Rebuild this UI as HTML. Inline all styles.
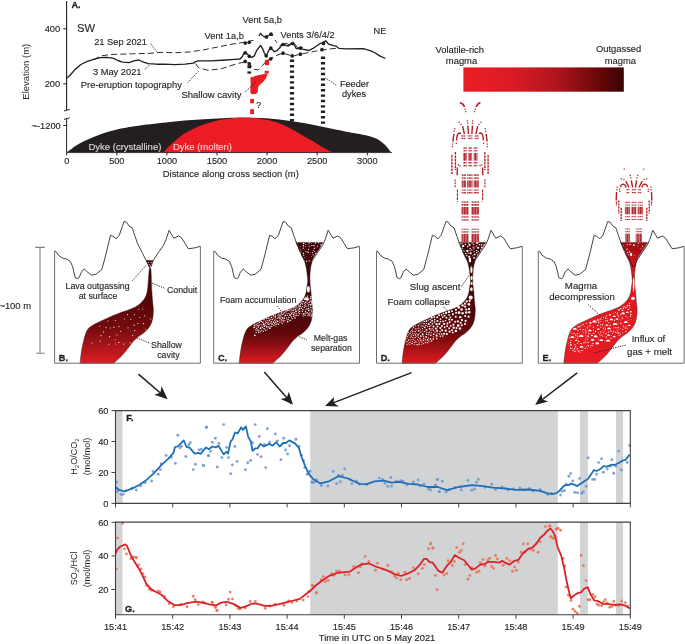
<!DOCTYPE html>
<html><head><meta charset="utf-8"><style>
html,body{margin:0;padding:0;background:#fff;overflow:hidden;}
svg{display:block;will-change:transform;}
text{font-family:"Liberation Sans", sans-serif;}
</style></head><body>
<svg width="685" height="644" viewBox="0 0 685 644">
<defs>
<linearGradient id="cbar" x1="0" y1="0" x2="1" y2="0">
<stop offset="0" stop-color="#ec1c24"/><stop offset="0.3" stop-color="#dd1b23"/><stop offset="0.6" stop-color="#aa151b"/><stop offset="0.85" stop-color="#650709"/><stop offset="1" stop-color="#3a0305"/>
</linearGradient>
<linearGradient id="gB" x1="0" y1="260" x2="0" y2="364" gradientUnits="userSpaceOnUse">
<stop offset="0" stop-color="#3a0204"/><stop offset="0.4" stop-color="#560607"/><stop offset="0.65" stop-color="#740b0f"/><stop offset="0.85" stop-color="#b0161c"/><stop offset="1" stop-color="#e41c24"/>
</linearGradient>
<linearGradient id="gC" x1="0" y1="242" x2="0" y2="364" gradientUnits="userSpaceOnUse">
<stop offset="0" stop-color="#3f0406"/><stop offset="0.6" stop-color="#4e0507"/><stop offset="0.75" stop-color="#5f0709"/><stop offset="0.88" stop-color="#a01218"/><stop offset="1" stop-color="#e31b23"/>
</linearGradient>
<linearGradient id="gD" x1="0" y1="242" x2="0" y2="364" gradientUnits="userSpaceOnUse">
<stop offset="0" stop-color="#3f0406"/><stop offset="0.6" stop-color="#520608"/><stop offset="0.75" stop-color="#6a080b"/><stop offset="0.9" stop-color="#b31419"/><stop offset="1" stop-color="#e31b23"/>
</linearGradient>
<linearGradient id="gE" x1="0" y1="242" x2="0" y2="364" gradientUnits="userSpaceOnUse">
<stop offset="0" stop-color="#960d12"/><stop offset="0.08" stop-color="#ac1016"/><stop offset="0.17" stop-color="#cc151c"/><stop offset="0.3" stop-color="#dc181f"/><stop offset="1" stop-color="#e81c24"/>
</linearGradient>
<pattern id="vs" x="0" y="0" width="1.6" height="4" patternUnits="userSpaceOnUse"><rect width="1.25" height="4" fill="#b01e26"/></pattern>
<pattern id="ds" x="0" y="0" width="1.7" height="2.6" patternUnits="userSpaceOnUse"><rect width="1.15" height="1.3" fill="#b2222a"/></pattern>
</defs>
<rect x="115.5" y="410.6" width="7" height="92.8" fill="#d1d3d4"/>
<rect x="310.2" y="410.6" width="247.6" height="92.8" fill="#d1d3d4"/>
<rect x="580" y="410.6" width="7.9" height="92.8" fill="#d1d3d4"/>
<rect x="616" y="410.6" width="7.1" height="92.8" fill="#d1d3d4"/>
<circle cx="116.6" cy="482" r="1.45" fill="#6d93d1" fill-opacity="0.85"/>
<circle cx="177.9" cy="435.3" r="1.45" fill="#6d93d1" fill-opacity="0.85"/>
<circle cx="206.4" cy="427.3" r="1.45" fill="#6d93d1" fill-opacity="0.85"/>
<circle cx="185.9" cy="456.5" r="1.45" fill="#6d93d1" fill-opacity="0.85"/>
<circle cx="175.4" cy="463.4" r="1.45" fill="#6d93d1" fill-opacity="0.85"/>
<circle cx="195.4" cy="464.2" r="1.45" fill="#6d93d1" fill-opacity="0.85"/>
<circle cx="193.2" cy="469.6" r="1.45" fill="#6d93d1" fill-opacity="0.85"/>
<circle cx="203.4" cy="465.5" r="1.45" fill="#6d93d1" fill-opacity="0.85"/>
<circle cx="208.5" cy="455.8" r="1.45" fill="#6d93d1" fill-opacity="0.85"/>
<circle cx="166.2" cy="455.5" r="1.45" fill="#6d93d1" fill-opacity="0.85"/>
<circle cx="153.1" cy="471.4" r="1.45" fill="#6d93d1" fill-opacity="0.85"/>
<circle cx="151.6" cy="481" r="1.45" fill="#6d93d1" fill-opacity="0.85"/>
<circle cx="158.2" cy="474.3" r="1.45" fill="#6d93d1" fill-opacity="0.85"/>
<circle cx="136.3" cy="490" r="1.45" fill="#6d93d1" fill-opacity="0.85"/>
<circle cx="121" cy="494.5" r="1.45" fill="#6d93d1" fill-opacity="0.85"/>
<circle cx="123.1" cy="494.2" r="1.45" fill="#6d93d1" fill-opacity="0.85"/>
<circle cx="117.3" cy="491.5" r="1.45" fill="#6d93d1" fill-opacity="0.85"/>
<circle cx="190.3" cy="442.6" r="1.45" fill="#6d93d1" fill-opacity="0.85"/>
<circle cx="188.8" cy="444.8" r="1.45" fill="#6d93d1" fill-opacity="0.85"/>
<circle cx="180" cy="447.7" r="1.45" fill="#6d93d1" fill-opacity="0.85"/>
<circle cx="181.5" cy="446.3" r="1.45" fill="#6d93d1" fill-opacity="0.85"/>
<circle cx="161.1" cy="463.8" r="1.45" fill="#6d93d1" fill-opacity="0.85"/>
<circle cx="171.3" cy="457.2" r="1.45" fill="#6d93d1" fill-opacity="0.85"/>
<circle cx="160.4" cy="469.6" r="1.45" fill="#6d93d1" fill-opacity="0.85"/>
<circle cx="145" cy="482.8" r="1.45" fill="#6d93d1" fill-opacity="0.85"/>
<circle cx="140.7" cy="485.7" r="1.45" fill="#6d93d1" fill-opacity="0.85"/>
<circle cx="131.9" cy="488.3" r="1.45" fill="#6d93d1" fill-opacity="0.85"/>
<circle cx="126" cy="490.8" r="1.45" fill="#6d93d1" fill-opacity="0.85"/>
<circle cx="199" cy="449.9" r="1.45" fill="#6d93d1" fill-opacity="0.85"/>
<circle cx="201.2" cy="449.2" r="1.45" fill="#6d93d1" fill-opacity="0.85"/>
<circle cx="206.7" cy="427.3" r="1.45" fill="#6d93d1" fill-opacity="0.85"/>
<circle cx="223.7" cy="424.6" r="1.45" fill="#6d93d1" fill-opacity="0.85"/>
<circle cx="255.2" cy="424.6" r="1.45" fill="#6d93d1" fill-opacity="0.85"/>
<circle cx="267.4" cy="428.7" r="1.45" fill="#6d93d1" fill-opacity="0.85"/>
<circle cx="275.3" cy="433.9" r="1.45" fill="#6d93d1" fill-opacity="0.85"/>
<circle cx="296" cy="439.2" r="1.45" fill="#6d93d1" fill-opacity="0.85"/>
<circle cx="259.2" cy="436.4" r="1.45" fill="#6d93d1" fill-opacity="0.85"/>
<circle cx="215.4" cy="438.3" r="1.45" fill="#6d93d1" fill-opacity="0.85"/>
<circle cx="212.3" cy="442.2" r="1.45" fill="#6d93d1" fill-opacity="0.85"/>
<circle cx="218.9" cy="443.4" r="1.45" fill="#6d93d1" fill-opacity="0.85"/>
<circle cx="283.7" cy="438.3" r="1.45" fill="#6d93d1" fill-opacity="0.85"/>
<circle cx="203.5" cy="465.5" r="1.45" fill="#6d93d1" fill-opacity="0.85"/>
<circle cx="208.4" cy="455.6" r="1.45" fill="#6d93d1" fill-opacity="0.85"/>
<circle cx="210.5" cy="451.4" r="1.45" fill="#6d93d1" fill-opacity="0.85"/>
<circle cx="217.2" cy="467" r="1.45" fill="#6d93d1" fill-opacity="0.85"/>
<circle cx="221.9" cy="457.6" r="1.45" fill="#6d93d1" fill-opacity="0.85"/>
<circle cx="226.6" cy="447.4" r="1.45" fill="#6d93d1" fill-opacity="0.85"/>
<circle cx="228.4" cy="457.6" r="1.45" fill="#6d93d1" fill-opacity="0.85"/>
<circle cx="230.7" cy="473.7" r="1.45" fill="#6d93d1" fill-opacity="0.85"/>
<circle cx="232.4" cy="464.9" r="1.45" fill="#6d93d1" fill-opacity="0.85"/>
<circle cx="235" cy="446.5" r="1.45" fill="#6d93d1" fill-opacity="0.85"/>
<circle cx="237.1" cy="461.4" r="1.45" fill="#6d93d1" fill-opacity="0.85"/>
<circle cx="245.5" cy="469.7" r="1.45" fill="#6d93d1" fill-opacity="0.85"/>
<circle cx="247.7" cy="462.8" r="1.45" fill="#6d93d1" fill-opacity="0.85"/>
<circle cx="250.5" cy="460.5" r="1.45" fill="#6d93d1" fill-opacity="0.85"/>
<circle cx="252.6" cy="442.7" r="1.45" fill="#6d93d1" fill-opacity="0.85"/>
<circle cx="257.5" cy="454.4" r="1.45" fill="#6d93d1" fill-opacity="0.85"/>
<circle cx="261" cy="456.7" r="1.45" fill="#6d93d1" fill-opacity="0.85"/>
<circle cx="265.7" cy="467.6" r="1.45" fill="#6d93d1" fill-opacity="0.85"/>
<circle cx="264.5" cy="444.4" r="1.45" fill="#6d93d1" fill-opacity="0.85"/>
<circle cx="269.7" cy="442.2" r="1.45" fill="#6d93d1" fill-opacity="0.85"/>
<circle cx="277.4" cy="441" r="1.45" fill="#6d93d1" fill-opacity="0.85"/>
<circle cx="280.9" cy="459.7" r="1.45" fill="#6d93d1" fill-opacity="0.85"/>
<circle cx="285.5" cy="450" r="1.45" fill="#6d93d1" fill-opacity="0.85"/>
<circle cx="287.6" cy="453.9" r="1.45" fill="#6d93d1" fill-opacity="0.85"/>
<circle cx="289.7" cy="445.7" r="1.45" fill="#6d93d1" fill-opacity="0.85"/>
<circle cx="299" cy="446.2" r="1.45" fill="#6d93d1" fill-opacity="0.85"/>
<circle cx="301.3" cy="455.3" r="1.45" fill="#6d93d1" fill-opacity="0.85"/>
<circle cx="303.4" cy="460.5" r="1.45" fill="#6d93d1" fill-opacity="0.85"/>
<circle cx="304.8" cy="467.6" r="1.45" fill="#6d93d1" fill-opacity="0.85"/>
<circle cx="307.2" cy="474.2" r="1.45" fill="#6d93d1" fill-opacity="0.85"/>
<circle cx="309.5" cy="471.6" r="1.45" fill="#6d93d1" fill-opacity="0.85"/>
<circle cx="312.1" cy="482.1" r="1.45" fill="#6d93d1" fill-opacity="0.85"/>
<circle cx="315.6" cy="480.3" r="1.45" fill="#6d93d1" fill-opacity="0.85"/>
<circle cx="313.9" cy="482.5" r="1.45" fill="#6d93d1" fill-opacity="0.85"/>
<circle cx="310" cy="471.3" r="1.45" fill="#6d93d1" fill-opacity="0.85"/>
<circle cx="333.2" cy="471.4" r="1.45" fill="#6d93d1" fill-opacity="0.85"/>
<circle cx="344.7" cy="469" r="1.45" fill="#6d93d1" fill-opacity="0.85"/>
<circle cx="338.5" cy="475.2" r="1.45" fill="#6d93d1" fill-opacity="0.85"/>
<circle cx="342.3" cy="475.2" r="1.45" fill="#6d93d1" fill-opacity="0.85"/>
<circle cx="336.6" cy="483.6" r="1.45" fill="#6d93d1" fill-opacity="0.85"/>
<circle cx="340.4" cy="481.7" r="1.45" fill="#6d93d1" fill-opacity="0.85"/>
<circle cx="312.3" cy="482.3" r="1.45" fill="#6d93d1" fill-opacity="0.85"/>
<circle cx="316.6" cy="480" r="1.45" fill="#6d93d1" fill-opacity="0.85"/>
<circle cx="321.4" cy="485.5" r="1.45" fill="#6d93d1" fill-opacity="0.85"/>
<circle cx="328" cy="486.1" r="1.45" fill="#6d93d1" fill-opacity="0.85"/>
<circle cx="349.9" cy="479.4" r="1.45" fill="#6d93d1" fill-opacity="0.85"/>
<circle cx="351.8" cy="483.6" r="1.45" fill="#6d93d1" fill-opacity="0.85"/>
<circle cx="356.5" cy="481.3" r="1.45" fill="#6d93d1" fill-opacity="0.85"/>
<circle cx="359.7" cy="484.2" r="1.45" fill="#6d93d1" fill-opacity="0.85"/>
<circle cx="366.6" cy="484.7" r="1.45" fill="#6d93d1" fill-opacity="0.85"/>
<circle cx="379.3" cy="478.1" r="1.45" fill="#6d93d1" fill-opacity="0.85"/>
<circle cx="382.5" cy="479.4" r="1.45" fill="#6d93d1" fill-opacity="0.85"/>
<circle cx="390.7" cy="477.5" r="1.45" fill="#6d93d1" fill-opacity="0.85"/>
<circle cx="387.8" cy="486.4" r="1.45" fill="#6d93d1" fill-opacity="0.85"/>
<circle cx="391.6" cy="486.1" r="1.45" fill="#6d93d1" fill-opacity="0.85"/>
<circle cx="385" cy="483.2" r="1.45" fill="#6d93d1" fill-opacity="0.85"/>
<circle cx="396.4" cy="481.3" r="1.45" fill="#6d93d1" fill-opacity="0.85"/>
<circle cx="400.7" cy="480.7" r="1.45" fill="#6d93d1" fill-opacity="0.85"/>
<circle cx="403" cy="481.3" r="1.45" fill="#6d93d1" fill-opacity="0.85"/>
<circle cx="406.8" cy="485.1" r="1.45" fill="#6d93d1" fill-opacity="0.85"/>
<circle cx="413.4" cy="481.9" r="1.45" fill="#6d93d1" fill-opacity="0.85"/>
<circle cx="418.2" cy="480" r="1.45" fill="#6d93d1" fill-opacity="0.85"/>
<circle cx="420.1" cy="486.1" r="1.45" fill="#6d93d1" fill-opacity="0.85"/>
<circle cx="423.9" cy="484.2" r="1.45" fill="#6d93d1" fill-opacity="0.85"/>
<circle cx="428.6" cy="488.9" r="1.45" fill="#6d93d1" fill-opacity="0.85"/>
<circle cx="430.5" cy="489.9" r="1.45" fill="#6d93d1" fill-opacity="0.85"/>
<circle cx="435.3" cy="485.1" r="1.45" fill="#6d93d1" fill-opacity="0.85"/>
<circle cx="437.5" cy="479.4" r="1.45" fill="#6d93d1" fill-opacity="0.85"/>
<circle cx="439.1" cy="491.8" r="1.45" fill="#6d93d1" fill-opacity="0.85"/>
<circle cx="437.2" cy="479.4" r="1.45" fill="#6d93d1" fill-opacity="0.85"/>
<circle cx="442.3" cy="481.3" r="1.45" fill="#6d93d1" fill-opacity="0.85"/>
<circle cx="435.7" cy="485.1" r="1.45" fill="#6d93d1" fill-opacity="0.85"/>
<circle cx="439.5" cy="491.4" r="1.45" fill="#6d93d1" fill-opacity="0.85"/>
<circle cx="446.1" cy="492.1" r="1.45" fill="#6d93d1" fill-opacity="0.85"/>
<circle cx="468" cy="480.4" r="1.45" fill="#6d93d1" fill-opacity="0.85"/>
<circle cx="478.4" cy="479.4" r="1.45" fill="#6d93d1" fill-opacity="0.85"/>
<circle cx="476.5" cy="482.3" r="1.45" fill="#6d93d1" fill-opacity="0.85"/>
<circle cx="471.8" cy="490.2" r="1.45" fill="#6d93d1" fill-opacity="0.85"/>
<circle cx="474.6" cy="488.9" r="1.45" fill="#6d93d1" fill-opacity="0.85"/>
<circle cx="461.3" cy="489.9" r="1.45" fill="#6d93d1" fill-opacity="0.85"/>
<circle cx="491.7" cy="484.2" r="1.45" fill="#6d93d1" fill-opacity="0.85"/>
<circle cx="495.5" cy="489.5" r="1.45" fill="#6d93d1" fill-opacity="0.85"/>
<circle cx="502.1" cy="487" r="1.45" fill="#6d93d1" fill-opacity="0.85"/>
<circle cx="507.8" cy="489.9" r="1.45" fill="#6d93d1" fill-opacity="0.85"/>
<circle cx="513.5" cy="488.9" r="1.45" fill="#6d93d1" fill-opacity="0.85"/>
<circle cx="523" cy="489.9" r="1.45" fill="#6d93d1" fill-opacity="0.85"/>
<circle cx="529.6" cy="488.5" r="1.45" fill="#6d93d1" fill-opacity="0.85"/>
<circle cx="540.1" cy="489.5" r="1.45" fill="#6d93d1" fill-opacity="0.85"/>
<circle cx="547.7" cy="494.6" r="1.45" fill="#6d93d1" fill-opacity="0.85"/>
<circle cx="551.5" cy="493.7" r="1.45" fill="#6d93d1" fill-opacity="0.85"/>
<circle cx="449" cy="489.9" r="1.45" fill="#6d93d1" fill-opacity="0.85"/>
<circle cx="455" cy="487.5" r="1.45" fill="#6d93d1" fill-opacity="0.85"/>
<circle cx="485" cy="487.2" r="1.45" fill="#6d93d1" fill-opacity="0.85"/>
<circle cx="533" cy="491" r="1.45" fill="#6d93d1" fill-opacity="0.85"/>
<circle cx="520" cy="488" r="1.45" fill="#6d93d1" fill-opacity="0.85"/>
<circle cx="560.5" cy="495.1" r="1.45" fill="#6d93d1" fill-opacity="0.85"/>
<circle cx="562.4" cy="491.2" r="1.45" fill="#6d93d1" fill-opacity="0.85"/>
<circle cx="564.6" cy="490.6" r="1.45" fill="#6d93d1" fill-opacity="0.85"/>
<circle cx="566.1" cy="484.3" r="1.45" fill="#6d93d1" fill-opacity="0.85"/>
<circle cx="568.9" cy="476.3" r="1.45" fill="#6d93d1" fill-opacity="0.85"/>
<circle cx="570.8" cy="473.4" r="1.45" fill="#6d93d1" fill-opacity="0.85"/>
<circle cx="572.7" cy="480.9" r="1.45" fill="#6d93d1" fill-opacity="0.85"/>
<circle cx="574.6" cy="492.4" r="1.45" fill="#6d93d1" fill-opacity="0.85"/>
<circle cx="577.5" cy="492.7" r="1.45" fill="#6d93d1" fill-opacity="0.85"/>
<circle cx="579.5" cy="478.4" r="1.45" fill="#6d93d1" fill-opacity="0.85"/>
<circle cx="581.6" cy="493.3" r="1.45" fill="#6d93d1" fill-opacity="0.85"/>
<circle cx="583.3" cy="492" r="1.45" fill="#6d93d1" fill-opacity="0.85"/>
<circle cx="586.2" cy="486.2" r="1.45" fill="#6d93d1" fill-opacity="0.85"/>
<circle cx="588.1" cy="457.9" r="1.45" fill="#6d93d1" fill-opacity="0.85"/>
<circle cx="592.8" cy="479.4" r="1.45" fill="#6d93d1" fill-opacity="0.85"/>
<circle cx="594.7" cy="479.4" r="1.45" fill="#6d93d1" fill-opacity="0.85"/>
<circle cx="596.5" cy="474.3" r="1.45" fill="#6d93d1" fill-opacity="0.85"/>
<circle cx="598.6" cy="462.6" r="1.45" fill="#6d93d1" fill-opacity="0.85"/>
<circle cx="601.5" cy="458.8" r="1.45" fill="#6d93d1" fill-opacity="0.85"/>
<circle cx="603.4" cy="472.2" r="1.45" fill="#6d93d1" fill-opacity="0.85"/>
<circle cx="607.3" cy="469.1" r="1.45" fill="#6d93d1" fill-opacity="0.85"/>
<circle cx="610.2" cy="466" r="1.45" fill="#6d93d1" fill-opacity="0.85"/>
<circle cx="611.8" cy="459.8" r="1.45" fill="#6d93d1" fill-opacity="0.85"/>
<circle cx="613.7" cy="473.2" r="1.45" fill="#6d93d1" fill-opacity="0.85"/>
<circle cx="615.8" cy="466" r="1.45" fill="#6d93d1" fill-opacity="0.85"/>
<circle cx="618.5" cy="451.1" r="1.45" fill="#6d93d1" fill-opacity="0.85"/>
<circle cx="621.3" cy="470" r="1.45" fill="#6d93d1" fill-opacity="0.85"/>
<circle cx="627.2" cy="462.5" r="1.45" fill="#6d93d1" fill-opacity="0.85"/>
<circle cx="629.7" cy="445.5" r="1.45" fill="#6d93d1" fill-opacity="0.85"/>
<polyline points="115.6,487 118.8,489.8 124.6,491.5 131.9,488.6 139.2,485 146.5,479.9 153.8,473.3 161.1,465.3 168.4,458.7 173.5,452.8 175,447 177.9,446.3 183.7,440.4 186.6,447 189.6,447.7 194.7,453.6 198.3,452.8 200.5,453.9 206.1,447.4 208.8,449.2 212.3,446.5 215.8,447.4 218.4,445.7 223.7,454.4 226.3,451.8 228,453.5 230.7,441.3 232.4,439.5 235,432.5 237.7,433.4 241.2,427.3 242.9,429.9 245.9,426.4 248.2,436.9 250.8,441.3 252.6,450.9 255.2,448.3 257.8,448.3 260.4,443.9 263.9,446.5 269.2,443.9 272.7,445.7 276.2,442.2 279.7,446.5 283.2,443 285.8,443 289.3,440.4 295.5,443.9 299,448.3 301.6,457 305.1,465.8 308.6,473.7 313,478.9 320,483.3 329,481.3 338.5,476.2 348,478.5 359.3,483.8 366.9,484.2 374.5,481.3 384,480.7 391.6,482.6 399.2,481.9 408.7,483.8 418.2,484.5 427.7,487 437.6,487 447.1,490.2 458.5,487 471.8,485.1 483.1,486.1 492.6,487.6 505.9,488.5 515.4,489.9 528.7,489.5 540.1,490.8 547.7,493.3 553.4,494 557.4,492.7 560.5,489.6 563.6,486.1 566.1,485.2 568.6,485.2 571.1,483.6 574.2,484.6 577.3,486.1 581,483.4 584.7,480.9 587.8,479 591,474.4 594,470 596.5,471 600.9,468.7 603.4,466.2 607.1,466.6 612,464.7 614.5,465 619.5,462.5 623.2,460.4 625.7,459.8 629.6,454.5" fill="none" stroke="#1d70b7" stroke-width="1.8" stroke-linejoin="round"/>
<path d="M115.5,410.6 H630.3 V503.4 H115.5 Z" fill="none" stroke="#414042" stroke-width="1.1"/>
<line x1="115.5" y1="503.4" x2="115.5" y2="507.4" stroke="#414042" stroke-width="1" />
<line x1="172.7" y1="503.4" x2="172.7" y2="507.4" stroke="#414042" stroke-width="1" />
<line x1="229.9" y1="503.4" x2="229.9" y2="507.4" stroke="#414042" stroke-width="1" />
<line x1="287.1" y1="503.4" x2="287.1" y2="507.4" stroke="#414042" stroke-width="1" />
<line x1="344.3" y1="503.4" x2="344.3" y2="507.4" stroke="#414042" stroke-width="1" />
<line x1="401.5" y1="503.4" x2="401.5" y2="507.4" stroke="#414042" stroke-width="1" />
<line x1="458.7" y1="503.4" x2="458.7" y2="507.4" stroke="#414042" stroke-width="1" />
<line x1="515.9" y1="503.4" x2="515.9" y2="507.4" stroke="#414042" stroke-width="1" />
<line x1="573.1" y1="503.4" x2="573.1" y2="507.4" stroke="#414042" stroke-width="1" />
<line x1="630.3" y1="503.4" x2="630.3" y2="507.4" stroke="#414042" stroke-width="1" />
<line x1="111.5" y1="410.6" x2="115.5" y2="410.6" stroke="#414042" stroke-width="1" />
<text x="108.5" y="413.9" font-size="9.3" text-anchor="end" font-weight="normal" fill="#231f20" stroke="#231f20" stroke-width="0.14" >60</text>
<line x1="111.5" y1="441.53" x2="115.5" y2="441.53" stroke="#414042" stroke-width="1" />
<text x="108.5" y="444.83" font-size="9.3" text-anchor="end" font-weight="normal" fill="#231f20" stroke="#231f20" stroke-width="0.14" >40</text>
<line x1="111.5" y1="472.47" x2="115.5" y2="472.47" stroke="#414042" stroke-width="1" />
<text x="108.5" y="475.77" font-size="9.3" text-anchor="end" font-weight="normal" fill="#231f20" stroke="#231f20" stroke-width="0.14" >20</text>
<line x1="111.5" y1="503.4" x2="115.5" y2="503.4" stroke="#414042" stroke-width="1" />
<text x="108.5" y="506.7" font-size="9.3" text-anchor="end" font-weight="normal" fill="#231f20" stroke="#231f20" stroke-width="0.14" >0</text>
<text x="126.3" y="420.6" font-size="9.2" text-anchor="start" font-weight="bold" fill="#231f20" stroke="#231f20" stroke-width="0.3" >F.</text>
<text transform="translate(77.4,456.6) rotate(-90)" font-size="9" text-anchor="middle" fill="#231f20">H<tspan font-size="6" dy="1.5">2</tspan><tspan dy="-1.5">O/CO</tspan><tspan font-size="6" dy="1.5">2</tspan></text>
<text transform="translate(89.6,456.6) rotate(-90)" font-size="9" text-anchor="middle" fill="#231f20">(mol/mol)</text>
<rect x="115.5" y="522.1" width="7" height="92.6" fill="#d1d3d4"/>
<rect x="310.2" y="522.1" width="247.6" height="92.6" fill="#d1d3d4"/>
<rect x="580" y="522.1" width="7.9" height="92.6" fill="#d1d3d4"/>
<rect x="616" y="522.1" width="7.1" height="92.6" fill="#d1d3d4"/>
<circle cx="122.5" cy="523.2" r="1.45" fill="#eb7458" fill-opacity="0.9"/>
<circle cx="117.7" cy="538.1" r="1.45" fill="#eb7458" fill-opacity="0.9"/>
<circle cx="116.4" cy="568.9" r="1.45" fill="#eb7458" fill-opacity="0.9"/>
<circle cx="124.5" cy="548.9" r="1.45" fill="#eb7458" fill-opacity="0.9"/>
<circle cx="126.4" cy="554" r="1.45" fill="#eb7458" fill-opacity="0.9"/>
<circle cx="130.9" cy="558.5" r="1.45" fill="#eb7458" fill-opacity="0.9"/>
<circle cx="135.7" cy="557.3" r="1.45" fill="#eb7458" fill-opacity="0.9"/>
<circle cx="136.5" cy="557.7" r="1.45" fill="#eb7458" fill-opacity="0.9"/>
<circle cx="133.3" cy="557.3" r="1.45" fill="#eb7458" fill-opacity="0.9"/>
<circle cx="138.6" cy="565" r="1.45" fill="#eb7458" fill-opacity="0.9"/>
<circle cx="141" cy="569" r="1.45" fill="#eb7458" fill-opacity="0.9"/>
<circle cx="142.9" cy="573.8" r="1.45" fill="#eb7458" fill-opacity="0.9"/>
<circle cx="145" cy="577" r="1.45" fill="#eb7458" fill-opacity="0.9"/>
<circle cx="146.6" cy="585.5" r="1.45" fill="#eb7458" fill-opacity="0.9"/>
<circle cx="149.3" cy="589.1" r="1.45" fill="#eb7458" fill-opacity="0.9"/>
<circle cx="151.4" cy="590.3" r="1.45" fill="#eb7458" fill-opacity="0.9"/>
<circle cx="158.2" cy="591.1" r="1.45" fill="#eb7458" fill-opacity="0.9"/>
<circle cx="160.1" cy="591.9" r="1.45" fill="#eb7458" fill-opacity="0.9"/>
<circle cx="164.6" cy="596.8" r="1.45" fill="#eb7458" fill-opacity="0.9"/>
<circle cx="169.4" cy="603.5" r="1.45" fill="#eb7458" fill-opacity="0.9"/>
<circle cx="173.4" cy="606.7" r="1.45" fill="#eb7458" fill-opacity="0.9"/>
<circle cx="180.7" cy="604.3" r="1.45" fill="#eb7458" fill-opacity="0.9"/>
<circle cx="187.1" cy="606.7" r="1.45" fill="#eb7458" fill-opacity="0.9"/>
<circle cx="193.2" cy="596.3" r="1.45" fill="#eb7458" fill-opacity="0.9"/>
<circle cx="195.1" cy="599.8" r="1.45" fill="#eb7458" fill-opacity="0.9"/>
<circle cx="198.3" cy="604.6" r="1.45" fill="#eb7458" fill-opacity="0.9"/>
<circle cx="203.1" cy="601.9" r="1.45" fill="#eb7458" fill-opacity="0.9"/>
<circle cx="212" cy="602.2" r="1.45" fill="#eb7458" fill-opacity="0.9"/>
<circle cx="215.2" cy="607.5" r="1.45" fill="#eb7458" fill-opacity="0.9"/>
<circle cx="216.8" cy="610.7" r="1.45" fill="#eb7458" fill-opacity="0.9"/>
<circle cx="230.1" cy="592.1" r="1.45" fill="#eb7458" fill-opacity="0.9"/>
<circle cx="232.5" cy="598.9" r="1.45" fill="#eb7458" fill-opacity="0.9"/>
<circle cx="228.5" cy="599.3" r="1.45" fill="#eb7458" fill-opacity="0.9"/>
<circle cx="212.4" cy="602.6" r="1.45" fill="#eb7458" fill-opacity="0.9"/>
<circle cx="217.2" cy="610.1" r="1.45" fill="#eb7458" fill-opacity="0.9"/>
<circle cx="215.6" cy="606.6" r="1.45" fill="#eb7458" fill-opacity="0.9"/>
<circle cx="226.1" cy="605" r="1.45" fill="#eb7458" fill-opacity="0.9"/>
<circle cx="235.7" cy="605.8" r="1.45" fill="#eb7458" fill-opacity="0.9"/>
<circle cx="238.1" cy="608.2" r="1.45" fill="#eb7458" fill-opacity="0.9"/>
<circle cx="239.7" cy="609" r="1.45" fill="#eb7458" fill-opacity="0.9"/>
<circle cx="245.3" cy="607.9" r="1.45" fill="#eb7458" fill-opacity="0.9"/>
<circle cx="250.1" cy="601.4" r="1.45" fill="#eb7458" fill-opacity="0.9"/>
<circle cx="255.3" cy="601.4" r="1.45" fill="#eb7458" fill-opacity="0.9"/>
<circle cx="265.4" cy="608.2" r="1.45" fill="#eb7458" fill-opacity="0.9"/>
<circle cx="275" cy="604.2" r="1.45" fill="#eb7458" fill-opacity="0.9"/>
<circle cx="283.9" cy="605.3" r="1.45" fill="#eb7458" fill-opacity="0.9"/>
<circle cx="288.7" cy="601" r="1.45" fill="#eb7458" fill-opacity="0.9"/>
<circle cx="296.7" cy="601" r="1.45" fill="#eb7458" fill-opacity="0.9"/>
<circle cx="303.1" cy="600.1" r="1.45" fill="#eb7458" fill-opacity="0.9"/>
<circle cx="308" cy="596.6" r="1.45" fill="#eb7458" fill-opacity="0.9"/>
<circle cx="312.5" cy="585.7" r="1.45" fill="#eb7458" fill-opacity="0.9"/>
<circle cx="316.3" cy="592.9" r="1.45" fill="#eb7458" fill-opacity="0.9"/>
<circle cx="308.8" cy="591.3" r="1.45" fill="#eb7458" fill-opacity="0.9"/>
<circle cx="270" cy="606" r="1.45" fill="#eb7458" fill-opacity="0.9"/>
<circle cx="292" cy="602.5" r="1.45" fill="#eb7458" fill-opacity="0.9"/>
<circle cx="312.3" cy="585.5" r="1.45" fill="#eb7458" fill-opacity="0.9"/>
<circle cx="316.6" cy="592.7" r="1.45" fill="#eb7458" fill-opacity="0.9"/>
<circle cx="321.4" cy="579.8" r="1.45" fill="#eb7458" fill-opacity="0.9"/>
<circle cx="323.3" cy="576.6" r="1.45" fill="#eb7458" fill-opacity="0.9"/>
<circle cx="325.2" cy="581.7" r="1.45" fill="#eb7458" fill-opacity="0.9"/>
<circle cx="328" cy="580.4" r="1.45" fill="#eb7458" fill-opacity="0.9"/>
<circle cx="331.8" cy="573.7" r="1.45" fill="#eb7458" fill-opacity="0.9"/>
<circle cx="333.7" cy="575.4" r="1.45" fill="#eb7458" fill-opacity="0.9"/>
<circle cx="336.6" cy="571.2" r="1.45" fill="#eb7458" fill-opacity="0.9"/>
<circle cx="339.4" cy="570.9" r="1.45" fill="#eb7458" fill-opacity="0.9"/>
<circle cx="345.1" cy="575" r="1.45" fill="#eb7458" fill-opacity="0.9"/>
<circle cx="348.9" cy="574.7" r="1.45" fill="#eb7458" fill-opacity="0.9"/>
<circle cx="353.7" cy="566.5" r="1.45" fill="#eb7458" fill-opacity="0.9"/>
<circle cx="358.4" cy="572.8" r="1.45" fill="#eb7458" fill-opacity="0.9"/>
<circle cx="360.3" cy="567.1" r="1.45" fill="#eb7458" fill-opacity="0.9"/>
<circle cx="365" cy="556.4" r="1.45" fill="#eb7458" fill-opacity="0.9"/>
<circle cx="362.2" cy="563.7" r="1.45" fill="#eb7458" fill-opacity="0.9"/>
<circle cx="368.8" cy="561.4" r="1.45" fill="#eb7458" fill-opacity="0.9"/>
<circle cx="375.5" cy="570.3" r="1.45" fill="#eb7458" fill-opacity="0.9"/>
<circle cx="377.4" cy="563.3" r="1.45" fill="#eb7458" fill-opacity="0.9"/>
<circle cx="383.1" cy="569.3" r="1.45" fill="#eb7458" fill-opacity="0.9"/>
<circle cx="387.8" cy="565.5" r="1.45" fill="#eb7458" fill-opacity="0.9"/>
<circle cx="391.6" cy="571.6" r="1.45" fill="#eb7458" fill-opacity="0.9"/>
<circle cx="394.5" cy="576" r="1.45" fill="#eb7458" fill-opacity="0.9"/>
<circle cx="396.4" cy="577.9" r="1.45" fill="#eb7458" fill-opacity="0.9"/>
<circle cx="398.3" cy="573.5" r="1.45" fill="#eb7458" fill-opacity="0.9"/>
<circle cx="400.7" cy="579.8" r="1.45" fill="#eb7458" fill-opacity="0.9"/>
<circle cx="404.9" cy="572.2" r="1.45" fill="#eb7458" fill-opacity="0.9"/>
<circle cx="406.8" cy="579.8" r="1.45" fill="#eb7458" fill-opacity="0.9"/>
<circle cx="409.6" cy="578.5" r="1.45" fill="#eb7458" fill-opacity="0.9"/>
<circle cx="413.4" cy="567.8" r="1.45" fill="#eb7458" fill-opacity="0.9"/>
<circle cx="418.2" cy="573.7" r="1.45" fill="#eb7458" fill-opacity="0.9"/>
<circle cx="422.4" cy="568.4" r="1.45" fill="#eb7458" fill-opacity="0.9"/>
<circle cx="424.3" cy="564.6" r="1.45" fill="#eb7458" fill-opacity="0.9"/>
<circle cx="428.6" cy="548.8" r="1.45" fill="#eb7458" fill-opacity="0.9"/>
<circle cx="430.5" cy="543.7" r="1.45" fill="#eb7458" fill-opacity="0.9"/>
<circle cx="433" cy="547.9" r="1.45" fill="#eb7458" fill-opacity="0.9"/>
<circle cx="435.3" cy="575.4" r="1.45" fill="#eb7458" fill-opacity="0.9"/>
<circle cx="437.2" cy="589.7" r="1.45" fill="#eb7458" fill-opacity="0.9"/>
<circle cx="430.9" cy="543.7" r="1.45" fill="#eb7458" fill-opacity="0.9"/>
<circle cx="432.8" cy="548.1" r="1.45" fill="#eb7458" fill-opacity="0.9"/>
<circle cx="444.2" cy="575" r="1.45" fill="#eb7458" fill-opacity="0.9"/>
<circle cx="446.7" cy="573.5" r="1.45" fill="#eb7458" fill-opacity="0.9"/>
<circle cx="448" cy="560.8" r="1.45" fill="#eb7458" fill-opacity="0.9"/>
<circle cx="452.4" cy="565.2" r="1.45" fill="#eb7458" fill-opacity="0.9"/>
<circle cx="454.3" cy="561.4" r="1.45" fill="#eb7458" fill-opacity="0.9"/>
<circle cx="456.6" cy="547.5" r="1.45" fill="#eb7458" fill-opacity="0.9"/>
<circle cx="459.4" cy="552.3" r="1.45" fill="#eb7458" fill-opacity="0.9"/>
<circle cx="461.3" cy="550.4" r="1.45" fill="#eb7458" fill-opacity="0.9"/>
<circle cx="463.2" cy="543.7" r="1.45" fill="#eb7458" fill-opacity="0.9"/>
<circle cx="465.1" cy="564.6" r="1.45" fill="#eb7458" fill-opacity="0.9"/>
<circle cx="468" cy="579.2" r="1.45" fill="#eb7458" fill-opacity="0.9"/>
<circle cx="469.9" cy="575.4" r="1.45" fill="#eb7458" fill-opacity="0.9"/>
<circle cx="471.8" cy="567.8" r="1.45" fill="#eb7458" fill-opacity="0.9"/>
<circle cx="476.5" cy="572.2" r="1.45" fill="#eb7458" fill-opacity="0.9"/>
<circle cx="479" cy="571.2" r="1.45" fill="#eb7458" fill-opacity="0.9"/>
<circle cx="480.3" cy="562.7" r="1.45" fill="#eb7458" fill-opacity="0.9"/>
<circle cx="483.1" cy="559.5" r="1.45" fill="#eb7458" fill-opacity="0.9"/>
<circle cx="485" cy="565.9" r="1.45" fill="#eb7458" fill-opacity="0.9"/>
<circle cx="487.9" cy="559.9" r="1.45" fill="#eb7458" fill-opacity="0.9"/>
<circle cx="489.8" cy="558.3" r="1.45" fill="#eb7458" fill-opacity="0.9"/>
<circle cx="491.7" cy="566.5" r="1.45" fill="#eb7458" fill-opacity="0.9"/>
<circle cx="493.6" cy="568.4" r="1.45" fill="#eb7458" fill-opacity="0.9"/>
<circle cx="495.5" cy="555.5" r="1.45" fill="#eb7458" fill-opacity="0.9"/>
<circle cx="497.4" cy="558.9" r="1.45" fill="#eb7458" fill-opacity="0.9"/>
<circle cx="503.1" cy="565.2" r="1.45" fill="#eb7458" fill-opacity="0.9"/>
<circle cx="506.9" cy="558.5" r="1.45" fill="#eb7458" fill-opacity="0.9"/>
<circle cx="509.7" cy="560.8" r="1.45" fill="#eb7458" fill-opacity="0.9"/>
<circle cx="512.6" cy="571.2" r="1.45" fill="#eb7458" fill-opacity="0.9"/>
<circle cx="514.5" cy="567.1" r="1.45" fill="#eb7458" fill-opacity="0.9"/>
<circle cx="516.4" cy="570.3" r="1.45" fill="#eb7458" fill-opacity="0.9"/>
<circle cx="518.3" cy="562.1" r="1.45" fill="#eb7458" fill-opacity="0.9"/>
<circle cx="521.1" cy="552.3" r="1.45" fill="#eb7458" fill-opacity="0.9"/>
<circle cx="523.4" cy="543.9" r="1.45" fill="#eb7458" fill-opacity="0.9"/>
<circle cx="524.9" cy="552.3" r="1.45" fill="#eb7458" fill-opacity="0.9"/>
<circle cx="527.7" cy="543.7" r="1.45" fill="#eb7458" fill-opacity="0.9"/>
<circle cx="530.6" cy="549.4" r="1.45" fill="#eb7458" fill-opacity="0.9"/>
<circle cx="533.4" cy="550.4" r="1.45" fill="#eb7458" fill-opacity="0.9"/>
<circle cx="536.3" cy="543.7" r="1.45" fill="#eb7458" fill-opacity="0.9"/>
<circle cx="538.2" cy="552.3" r="1.45" fill="#eb7458" fill-opacity="0.9"/>
<circle cx="540.1" cy="541.8" r="1.45" fill="#eb7458" fill-opacity="0.9"/>
<circle cx="545.4" cy="526.6" r="1.45" fill="#eb7458" fill-opacity="0.9"/>
<circle cx="549.2" cy="526.1" r="1.45" fill="#eb7458" fill-opacity="0.9"/>
<circle cx="551.1" cy="536.7" r="1.45" fill="#eb7458" fill-opacity="0.9"/>
<circle cx="553.4" cy="538" r="1.45" fill="#eb7458" fill-opacity="0.9"/>
<circle cx="556.2" cy="529.1" r="1.45" fill="#eb7458" fill-opacity="0.9"/>
<circle cx="558.1" cy="528.5" r="1.45" fill="#eb7458" fill-opacity="0.9"/>
<circle cx="550" cy="525.9" r="1.45" fill="#eb7458" fill-opacity="0.9"/>
<circle cx="550.7" cy="537" r="1.45" fill="#eb7458" fill-opacity="0.9"/>
<circle cx="553.2" cy="538.4" r="1.45" fill="#eb7458" fill-opacity="0.9"/>
<circle cx="556.2" cy="529.1" r="1.45" fill="#eb7458" fill-opacity="0.9"/>
<circle cx="557.7" cy="528.1" r="1.45" fill="#eb7458" fill-opacity="0.9"/>
<circle cx="560.6" cy="530.3" r="1.45" fill="#eb7458" fill-opacity="0.9"/>
<circle cx="563" cy="558.4" r="1.45" fill="#eb7458" fill-opacity="0.9"/>
<circle cx="564.8" cy="566" r="1.45" fill="#eb7458" fill-opacity="0.9"/>
<circle cx="565.9" cy="587.1" r="1.45" fill="#eb7458" fill-opacity="0.9"/>
<circle cx="568.4" cy="595.2" r="1.45" fill="#eb7458" fill-opacity="0.9"/>
<circle cx="571" cy="600.4" r="1.45" fill="#eb7458" fill-opacity="0.9"/>
<circle cx="572.9" cy="609.3" r="1.45" fill="#eb7458" fill-opacity="0.9"/>
<circle cx="575.1" cy="611.5" r="1.45" fill="#eb7458" fill-opacity="0.9"/>
<circle cx="577.3" cy="613.2" r="1.45" fill="#eb7458" fill-opacity="0.9"/>
<circle cx="579.5" cy="606.3" r="1.45" fill="#eb7458" fill-opacity="0.9"/>
<circle cx="581.3" cy="555.4" r="1.45" fill="#eb7458" fill-opacity="0.9"/>
<circle cx="583.3" cy="565.7" r="1.45" fill="#eb7458" fill-opacity="0.9"/>
<circle cx="586.1" cy="580.8" r="1.45" fill="#eb7458" fill-opacity="0.9"/>
<circle cx="588.1" cy="599.7" r="1.45" fill="#eb7458" fill-opacity="0.9"/>
<circle cx="589.8" cy="599.7" r="1.45" fill="#eb7458" fill-opacity="0.9"/>
<circle cx="592.8" cy="594.5" r="1.45" fill="#eb7458" fill-opacity="0.9"/>
<circle cx="595" cy="596.7" r="1.45" fill="#eb7458" fill-opacity="0.9"/>
<circle cx="596.9" cy="604.1" r="1.45" fill="#eb7458" fill-opacity="0.9"/>
<circle cx="598.7" cy="605.3" r="1.45" fill="#eb7458" fill-opacity="0.9"/>
<circle cx="601.6" cy="605.6" r="1.45" fill="#eb7458" fill-opacity="0.9"/>
<circle cx="603.4" cy="601.9" r="1.45" fill="#eb7458" fill-opacity="0.9"/>
<circle cx="605.3" cy="599.7" r="1.45" fill="#eb7458" fill-opacity="0.9"/>
<circle cx="607.2" cy="602.9" r="1.45" fill="#eb7458" fill-opacity="0.9"/>
<circle cx="609.8" cy="607.3" r="1.45" fill="#eb7458" fill-opacity="0.9"/>
<circle cx="612" cy="606.3" r="1.45" fill="#eb7458" fill-opacity="0.9"/>
<circle cx="613.7" cy="601.4" r="1.45" fill="#eb7458" fill-opacity="0.9"/>
<circle cx="615.7" cy="605.3" r="1.45" fill="#eb7458" fill-opacity="0.9"/>
<circle cx="618.6" cy="605.3" r="1.45" fill="#eb7458" fill-opacity="0.9"/>
<circle cx="621.6" cy="600.9" r="1.45" fill="#eb7458" fill-opacity="0.9"/>
<circle cx="625.2" cy="602.6" r="1.45" fill="#eb7458" fill-opacity="0.9"/>
<circle cx="628" cy="606.5" r="1.45" fill="#eb7458" fill-opacity="0.9"/>
<polyline points="115.6,553.7 117.2,549.7 120.4,546.5 125.3,544.4 126.9,545.7 130.1,553.7 134.1,561 138.1,567.4 142.1,574.6 146.1,583.4 151,589.1 156.6,592.3 161.4,594.7 167.8,601.1 174.2,605.1 180.7,605.1 187.1,603.2 196.7,601.6 206.4,603.5 210,604.6 216.4,605.3 221.2,602.6 226.9,601.8 234.1,604.2 240.5,607.9 245.3,606.6 251.8,603.7 256.6,603.7 264.6,605.8 271,605.8 279.1,604.2 287.1,602.1 293.5,600.5 299.9,598.9 306.4,593.7 310,591.2 315.7,585.5 323.3,579.8 329,576 336.6,573.1 344.2,572.2 349.9,571.6 355.5,567.8 361.2,564.6 368.8,563.3 375.5,566.5 383.1,569 388.8,571.2 394.5,574.1 401.1,576 408.7,573.1 414.4,570.3 420.1,564.6 423.9,558.9 426.7,558.9 429.6,562.1 432.8,562.7 438.5,570.9 442.3,572.8 447.1,565.5 450.9,561.8 454.7,555.1 459.4,558 464.2,560.2 471.8,569.7 475.5,568.4 480.3,564.6 485,564 487.9,561.8 492.6,561.8 499.3,562.7 502.1,560.8 505,562.7 509.7,564.6 514.5,560.8 518.3,559.9 523,553.2 528.7,548.5 532.5,547.5 536.3,543.7 540.1,538 543.9,534.8 547.7,530.4 550.5,528.5 553,531.8 555.2,536.2 557.4,546.6 561.1,555.4 564,567.2 566.2,579 568.4,589.3 570.7,598.2 574.3,595.2 578,593 581,592.3 583.9,589 587.6,587.1 590.6,594.5 594.3,600.4 598,601.1 602.4,603.8 609,604.1 614.9,604.8 620.8,604.4 625.2,605.6 629.7,608.5" fill="none" stroke="#dc2027" stroke-width="1.8" stroke-linejoin="round"/>
<path d="M115.5,522.1 H630.3 V614.7 H115.5 Z" fill="none" stroke="#414042" stroke-width="1.1"/>
<line x1="115.5" y1="614.7" x2="115.5" y2="618.7" stroke="#414042" stroke-width="1" />
<line x1="172.7" y1="614.7" x2="172.7" y2="618.7" stroke="#414042" stroke-width="1" />
<line x1="229.9" y1="614.7" x2="229.9" y2="618.7" stroke="#414042" stroke-width="1" />
<line x1="287.1" y1="614.7" x2="287.1" y2="618.7" stroke="#414042" stroke-width="1" />
<line x1="344.3" y1="614.7" x2="344.3" y2="618.7" stroke="#414042" stroke-width="1" />
<line x1="401.5" y1="614.7" x2="401.5" y2="618.7" stroke="#414042" stroke-width="1" />
<line x1="458.7" y1="614.7" x2="458.7" y2="618.7" stroke="#414042" stroke-width="1" />
<line x1="515.9" y1="614.7" x2="515.9" y2="618.7" stroke="#414042" stroke-width="1" />
<line x1="573.1" y1="614.7" x2="573.1" y2="618.7" stroke="#414042" stroke-width="1" />
<line x1="630.3" y1="614.7" x2="630.3" y2="618.7" stroke="#414042" stroke-width="1" />
<line x1="111.5" y1="522.3" x2="115.5" y2="522.3" stroke="#414042" stroke-width="1" />
<text x="108.5" y="525.6" font-size="9.3" text-anchor="end" font-weight="normal" fill="#231f20" stroke="#231f20" stroke-width="0.14" >60</text>
<line x1="111.5" y1="555.9" x2="115.5" y2="555.9" stroke="#414042" stroke-width="1" />
<text x="108.5" y="559.2" font-size="9.3" text-anchor="end" font-weight="normal" fill="#231f20" stroke="#231f20" stroke-width="0.14" >40</text>
<line x1="111.5" y1="589.5" x2="115.5" y2="589.5" stroke="#414042" stroke-width="1" />
<text x="108.5" y="592.8" font-size="9.3" text-anchor="end" font-weight="normal" fill="#231f20" stroke="#231f20" stroke-width="0.14" >20</text>
<text x="125" y="611.6" font-size="9.2" text-anchor="start" font-weight="bold" fill="#231f20" stroke="#231f20" stroke-width="0.3" >G.</text>
<text transform="translate(77.4,568.4) rotate(-90)" font-size="9" text-anchor="middle" fill="#231f20">SO<tspan font-size="6" dy="1.5">2</tspan><tspan dy="-1.5">/HCl</tspan></text>
<text transform="translate(89.6,568.4) rotate(-90)" font-size="9" text-anchor="middle" fill="#231f20">(mol/mol)</text>
<text x="115.5" y="630.2" font-size="9.2" text-anchor="middle" font-weight="normal" fill="#231f20" stroke="#231f20" stroke-width="0.14" >15:41</text>
<text x="172.7" y="630.2" font-size="9.2" text-anchor="middle" font-weight="normal" fill="#231f20" stroke="#231f20" stroke-width="0.14" >15:42</text>
<text x="229.9" y="630.2" font-size="9.2" text-anchor="middle" font-weight="normal" fill="#231f20" stroke="#231f20" stroke-width="0.14" >15:43</text>
<text x="287.1" y="630.2" font-size="9.2" text-anchor="middle" font-weight="normal" fill="#231f20" stroke="#231f20" stroke-width="0.14" >15:44</text>
<text x="344.3" y="630.2" font-size="9.2" text-anchor="middle" font-weight="normal" fill="#231f20" stroke="#231f20" stroke-width="0.14" >15:45</text>
<text x="401.5" y="630.2" font-size="9.2" text-anchor="middle" font-weight="normal" fill="#231f20" stroke="#231f20" stroke-width="0.14" >15:46</text>
<text x="458.7" y="630.2" font-size="9.2" text-anchor="middle" font-weight="normal" fill="#231f20" stroke="#231f20" stroke-width="0.14" >15:47</text>
<text x="515.9" y="630.2" font-size="9.2" text-anchor="middle" font-weight="normal" fill="#231f20" stroke="#231f20" stroke-width="0.14" >15:48</text>
<text x="573.1" y="630.2" font-size="9.2" text-anchor="middle" font-weight="normal" fill="#231f20" stroke="#231f20" stroke-width="0.14" >15:49</text>
<text x="630.3" y="630.2" font-size="9.2" text-anchor="middle" font-weight="normal" fill="#231f20" stroke="#231f20" stroke-width="0.14" >15:49</text>
<text x="318.8" y="641" font-size="9.35" text-anchor="start" font-weight="normal" fill="#231f20" stroke="#231f20" stroke-width="0.14" >Time in UTC on 5 May 2021</text>
<line x1="138.4" y1="374.1" x2="165.67" y2="397.54" stroke="#231f20" stroke-width="1.5" />
<path d="M167.6,399.3 L161.6,386.2 L160.36,392.7 L154.3,394.8 Z" fill="#231f20"/>
<line x1="264.3" y1="371.9" x2="291.35" y2="402.9" stroke="#231f20" stroke-width="1.5" />
<path d="M293,404.8 L288.8,391.7 L286.81,397.67 L280.7,398.9 Z" fill="#231f20"/>
<line x1="411.6" y1="372.6" x2="327.29" y2="405.14" stroke="#231f20" stroke-width="1.5" />
<path d="M325,406 L334,397 L333.59,402.77 L338.9,406.4 Z" fill="#231f20"/>
<line x1="577.2" y1="372.8" x2="537.12" y2="403.52" stroke="#231f20" stroke-width="1.5" />
<path d="M535.2,405 L541.4,393.6 L542.4,399.45 L548.2,401.6 Z" fill="#231f20"/>
<path d="M66.7,152.4 C68.92,150.87 74.45,146.2 80,143.2 C85.55,140.2 93.33,136.8 100,134.4 C106.67,132 113.33,130.3 120,128.8 C126.67,127.3 131.67,126.55 140,125.4 C148.33,124.25 160,122.87 170,121.9 C180,120.93 189.17,120.28 200,119.6 C210.83,118.92 224.53,118.05 235,117.8 C245.47,117.55 254.52,117.68 262.8,118.1 C271.08,118.52 277.4,119.38 284.7,120.3 C292,121.22 299.3,122.32 306.6,123.6 C313.9,124.88 321.2,126.53 328.5,128 C335.8,129.47 344.03,131.17 350.4,132.4 C356.77,133.63 362.42,134.38 366.7,135.4 C370.98,136.42 373.37,137.2 376.1,138.5 C378.83,139.8 381.17,141.63 383.1,143.2 C385.03,144.77 386.35,146.33 387.7,147.9 C389.05,149.47 390.62,151.82 391.2,152.6 Z" fill="#231f20"/>
<path d="M163.8,152.4 C164.63,151.42 166.83,148.47 168.8,146.5 C170.77,144.53 173.23,142.6 175.6,140.6 C177.97,138.6 180.17,136.38 183,134.5 C185.83,132.62 189.6,130.78 192.6,129.3 C195.6,127.82 198.1,126.72 201,125.6 C203.9,124.48 206.5,123.6 210,122.6 C213.5,121.6 217.9,120.38 222,119.6 C226.1,118.82 230.6,118.23 234.6,117.9 C238.6,117.57 242.1,117.48 246,117.6 C249.9,117.72 253.37,117.97 258,118.6 C262.63,119.23 269.63,120.37 273.8,121.4 C277.97,122.43 280.08,123.52 283,124.8 C285.92,126.08 288.63,127.7 291.3,129.1 C293.97,130.5 296.45,131.75 299,133.2 C301.55,134.65 304.18,136.4 306.6,137.8 C309.02,139.2 311.3,140.32 313.5,141.6 C315.7,142.88 317.72,144.27 319.8,145.5 C321.88,146.73 323.92,147.85 326,149 C328.08,150.15 331.25,151.83 332.3,152.4 Z" fill="#ec1c24"/>
<text x="88.5" y="150.1" font-size="9.5" text-anchor="start" font-weight="normal" fill="#d9d9d9" stroke="#d9d9d9" stroke-width="0.14" >Dyke (crystalline)</text>
<text x="172.9" y="150.1" font-size="9.5" text-anchor="start" font-weight="normal" fill="#f9c8c4" stroke="#f9c8c4" stroke-width="0.14" >Dyke (molten)</text>
<line x1="66.6" y1="1" x2="66.6" y2="110.3" stroke="#231f20" stroke-width="1.1" />
<line x1="64" y1="111" x2="69.6" y2="109.4" stroke="#231f20" stroke-width="1" />
<line x1="66.6" y1="118.6" x2="66.6" y2="152.6" stroke="#231f20" stroke-width="1" />
<line x1="64" y1="119.4" x2="69.6" y2="117.8" stroke="#231f20" stroke-width="1" />
<line x1="66.2" y1="152.6" x2="392" y2="152.6" stroke="#231f20" stroke-width="0.8" />
<line x1="63.2" y1="28.8" x2="66.6" y2="28.8" stroke="#231f20" stroke-width="1" />
<line x1="63.2" y1="83.8" x2="66.6" y2="83.8" stroke="#231f20" stroke-width="1" />
<line x1="63.2" y1="125.5" x2="66.6" y2="125.5" stroke="#231f20" stroke-width="1" />
<text x="60.2" y="31.8" font-size="9.3" text-anchor="end" font-weight="normal" fill="#231f20" stroke="#231f20" stroke-width="0.14" >400</text>
<text x="60.2" y="86.8" font-size="9.3" text-anchor="end" font-weight="normal" fill="#231f20" stroke="#231f20" stroke-width="0.14" >200</text>
<text x="60.8" y="128.8" font-size="9.3" text-anchor="end" font-weight="normal" fill="#231f20" stroke="#231f20" stroke-width="0.14" >~-1200</text>
<text transform="translate(29.4,71.7) rotate(-90)" font-size="9.5" text-anchor="middle" fill="#231f20">Elevation (m)</text>
<line x1="66.7" y1="152.6" x2="66.7" y2="155.4" stroke="#231f20" stroke-width="1" />
<text x="66.7" y="164.4" font-size="9.2" text-anchor="middle" font-weight="normal" fill="#231f20" stroke="#231f20" stroke-width="0.14" >0</text>
<line x1="116.8" y1="152.6" x2="116.8" y2="155.4" stroke="#231f20" stroke-width="1" />
<text x="116.8" y="164.4" font-size="9.2" text-anchor="middle" font-weight="normal" fill="#231f20" stroke="#231f20" stroke-width="0.14" >500</text>
<line x1="166.9" y1="152.6" x2="166.9" y2="155.4" stroke="#231f20" stroke-width="1" />
<text x="166.9" y="164.4" font-size="9.2" text-anchor="middle" font-weight="normal" fill="#231f20" stroke="#231f20" stroke-width="0.14" >1000</text>
<line x1="217" y1="152.6" x2="217" y2="155.4" stroke="#231f20" stroke-width="1" />
<text x="217" y="164.4" font-size="9.2" text-anchor="middle" font-weight="normal" fill="#231f20" stroke="#231f20" stroke-width="0.14" >1500</text>
<line x1="267.1" y1="152.6" x2="267.1" y2="155.4" stroke="#231f20" stroke-width="1" />
<text x="267.1" y="164.4" font-size="9.2" text-anchor="middle" font-weight="normal" fill="#231f20" stroke="#231f20" stroke-width="0.14" >2000</text>
<line x1="317.2" y1="152.6" x2="317.2" y2="155.4" stroke="#231f20" stroke-width="1" />
<text x="317.2" y="164.4" font-size="9.2" text-anchor="middle" font-weight="normal" fill="#231f20" stroke="#231f20" stroke-width="0.14" >2500</text>
<line x1="367.3" y1="152.6" x2="367.3" y2="155.4" stroke="#231f20" stroke-width="1" />
<text x="367.3" y="164.4" font-size="9.2" text-anchor="middle" font-weight="normal" fill="#231f20" stroke="#231f20" stroke-width="0.14" >3000</text>
<text x="162.8" y="176.6" font-size="9.4" text-anchor="start" font-weight="normal" fill="#231f20" stroke="#231f20" stroke-width="0.14" >Distance along cross section (m)</text>
<text x="71.4" y="7.8" font-size="9.2" text-anchor="start" font-weight="bold" fill="#231f20" stroke="#231f20" stroke-width="0.3" >A.</text>
<text x="77" y="31.9" font-size="11.2" text-anchor="start" font-weight="normal" fill="#231f20" stroke="#231f20" stroke-width="0.14" >SW</text>
<text x="373.6" y="33.8" font-size="9.2" text-anchor="start" font-weight="normal" fill="#231f20" stroke="#231f20" stroke-width="0.14" >NE</text>
<line x1="292" y1="59.6" x2="292" y2="121.5" stroke="#231f20" stroke-width="4.2" stroke-dasharray="2.4 3.0" stroke-dashoffset="0"/>
<line x1="323" y1="56.6" x2="323" y2="124" stroke="#231f20" stroke-width="4.2" stroke-dasharray="2.4 3.0" stroke-dashoffset="0"/>
<rect x="247.4" y="65.4" width="3.8" height="2.9" fill="#231f20"/><rect x="247.4" y="71.4" width="3.8" height="2.2" fill="#231f20"/>
<rect x="264.9" y="59.8" width="4.3" height="5.4" fill="#ec1c24"/>
<path d="M250.6,77.3 C250.89,77.04 253.37,76.57 254,76.4 C254.63,76.23 257.44,75.48 258.2,75.3 C258.96,75.12 262.43,74.33 263.1,74.2 C263.77,74.08 265.84,73.78 266.2,73.8 C266.56,73.82 267.34,74.22 267.4,74.4 C267.46,74.58 267.03,75.65 266.9,76 C266.77,76.35 266.06,78.17 265.8,78.6 C265.54,79.03 264.18,80.79 263.8,81.2 C263.42,81.61 261.61,83.12 261.2,83.5 C260.79,83.88 259.17,85.43 258.9,85.8 C258.62,86.17 257.98,87.49 257.9,87.9 C257.82,88.31 257.96,90.28 257.9,90.7 C257.84,91.12 257.44,92.72 257.2,93 C256.96,93.28 255.38,93.99 255,94.1 C254.62,94.21 252.97,94.38 252.6,94.3 C252.23,94.22 250.78,93.56 250.6,93.2 C250.42,92.84 250.39,90.77 250.4,90 C250.41,89.23 250.69,84.88 250.7,84 C250.71,83.12 250.51,80.06 250.5,79.5 C250.49,78.94 250.31,77.56 250.6,77.3Z" fill="#ec1c24"/>
<rect x="264.6" y="70.9" width="4.0" height="2.7" fill="#ec1c24"/>
<rect x="250.2" y="98.9" width="3.8" height="4.4" fill="#ec1c24"/>
<rect x="250.2" y="109.2" width="3.8" height="4.9" fill="#ec1c24"/>
<text x="256" y="107.6" font-size="9.3" text-anchor="start" font-weight="normal" fill="#231f20" stroke="#231f20" stroke-width="0.14" >?</text>
<polyline points="66.4,78.2 69.6,75.8 74.5,70.1 80.9,64.5 87.3,61.3 93.7,59.4 100.1,57.6 106.6,57.3 113,58.1 117.8,60.5 122.6,62.1 129.1,62.6 133.9,60.8 138.7,60 143.5,62.1 148.3,63.7 156.4,64.2 165,64.2 174.6,64.7 185,64.2 193.6,63.2 195,61.8 198,60.8 211.1,60.8 225.7,60 235,59.3 240.1,59 242.2,56.8 244.2,52.7 246.2,52.9 249.3,56.3 251.9,57.3 254.4,55.8 256.5,50.7 258.5,48.1 260.5,45.5 262.6,48.6 264.6,53.7 266.2,55.8 268.7,50.7 270.3,48.1 272.3,49.6 274.3,51.7 276.9,50.7 280,47.6 282,44.5 285.1,45 288.1,46.1 292.2,43.5 294.3,45 296.3,48.6 299.4,48.6 303.8,49.3 308.9,50.5 314,47.8 319.1,44.2 323.5,42 326,41 328.6,44.2 333.7,45.7 336.6,46.4 338.8,48.3 346.1,48.9 363.6,48.6 366.5,49.7 370.9,50.8 375.3,53 379.7,55.9 385.5,58.5" fill="none" stroke="#231f20" stroke-width="1.35" stroke-linejoin="round"/>
<polyline points="259,36 260.5,33.2 262.3,35.6 264.5,36.9 266.4,37 268.6,35.4 271,34 272.9,35.6" fill="none" stroke="#231f20" stroke-width="1.2" stroke-linejoin="round"/>
<polyline points="93.7,59.6 101.8,55.7 113,54.4 132.3,53.8 149.9,53.3 160,52.4 174.6,52.7 189.2,52 203.8,49.8 218.4,46.9 233,44 244.7,42.2 253.4,40.3" fill="none" stroke="#231f20" stroke-width="0.95" stroke-dasharray="6 3.2"/>
<line x1="274.9" y1="39.9" x2="277.2" y2="42.8" stroke="#231f20" stroke-width="0.9" />
<polyline points="279.5,45.8 282.7,44.0 286,43.2 289,44.6 292.1,42.9 295,44.2 297.5,47.6 300.2,47.6 303,47.2" fill="none" stroke="#231f20" stroke-width="0.9"/>
<polyline points="195.8,63.7 197,66 199.4,68.1 208.2,70.3 221.3,68.8 230.1,65.9 238.8,63.2 243.2,62.4 246,62 249.3,63.9 252,67 254.4,69.4 258.5,69.9 261.6,66.5 265.7,61.9 270.8,58.3 276.9,55.3 283,53.2 290.2,55.3 294.3,55.8 300.4,54.1 308.1,52.7 315.4,51.2 322,50 330,48.9 337.3,48.3" fill="none" stroke="#231f20" stroke-width="0.95" stroke-dasharray="6 3.2"/>
<circle cx="245.3" cy="43.1" r="1.85" fill="#231f20"/>
<circle cx="249.2" cy="42.3" r="1.85" fill="#231f20"/>
<circle cx="266.4" cy="36.9" r="1.85" fill="#231f20"/>
<circle cx="271" cy="34.2" r="1.85" fill="#231f20"/>
<circle cx="245.2" cy="52.9" r="1.85" fill="#231f20"/>
<circle cx="249.3" cy="56.3" r="1.85" fill="#231f20"/>
<circle cx="266.2" cy="55.8" r="1.85" fill="#231f20"/>
<circle cx="270.8" cy="48.1" r="1.85" fill="#231f20"/>
<circle cx="283" cy="44.5" r="1.85" fill="#231f20"/>
<circle cx="292.7" cy="43.5" r="1.85" fill="#231f20"/>
<circle cx="300.4" cy="48.1" r="1.85" fill="#231f20"/>
<circle cx="323.5" cy="43.5" r="1.85" fill="#231f20"/>
<circle cx="245.2" cy="61.4" r="1.85" fill="#231f20"/>
<circle cx="249.3" cy="63.9" r="1.85" fill="#231f20"/>
<circle cx="270.8" cy="58.8" r="1.85" fill="#231f20"/>
<circle cx="283" cy="53.2" r="1.85" fill="#231f20"/>
<circle cx="292.2" cy="55.8" r="1.85" fill="#231f20"/>
<circle cx="300.4" cy="54.2" r="1.85" fill="#231f20"/>
<circle cx="322" cy="49.7" r="1.85" fill="#231f20"/>
<text x="94.2" y="45.3" font-size="9.3" text-anchor="start" font-weight="normal" fill="#231f20" stroke="#231f20" stroke-width="0.14" >21 Sep 2021</text>
<text x="92.9" y="74.6" font-size="9.3" text-anchor="start" font-weight="normal" fill="#231f20" stroke="#231f20" stroke-width="0.14" >3 May 2021</text>
<text x="80.8" y="87.5" font-size="9.4" text-anchor="start" font-weight="normal" fill="#231f20" stroke="#231f20" stroke-width="0.14" >Pre-eruption topography</text>
<text x="204.6" y="38.8" font-size="9.3" text-anchor="start" font-weight="normal" fill="#231f20" stroke="#231f20" stroke-width="0.14" >Vent 1a,b</text>
<text x="242.6" y="23.4" font-size="9.3" text-anchor="start" font-weight="normal" fill="#231f20" stroke="#231f20" stroke-width="0.14" >Vent 5a,b</text>
<text x="280.6" y="38" font-size="9.25" text-anchor="start" font-weight="normal" fill="#231f20" stroke="#231f20" stroke-width="0.14" >Vents 3/6/4/2</text>
<text x="181.4" y="97.5" font-size="9.5" text-anchor="start" font-weight="normal" fill="#231f20" stroke="#231f20" stroke-width="0.14" >Shallow cavity</text>
<text x="339.9" y="86.6" font-size="9.2" text-anchor="start" font-weight="normal" fill="#231f20" stroke="#231f20" stroke-width="0.14" >Feeder</text>
<text x="342" y="97.3" font-size="9.2" text-anchor="start" font-weight="normal" fill="#231f20" stroke="#231f20" stroke-width="0.14" >dykes</text>
<line x1="150.7" y1="43.6" x2="157.2" y2="52.5" stroke="#231f20" stroke-width="1" stroke-dasharray="1.2 1.2"/>
<line x1="145.1" y1="69.3" x2="149.9" y2="64.5" stroke="#231f20" stroke-width="1" stroke-dasharray="1.2 1.2"/>
<line x1="187.7" y1="82.7" x2="198.7" y2="71" stroke="#231f20" stroke-width="1" stroke-dasharray="1.2 1.2"/>
<line x1="244.8" y1="92.4" x2="256.7" y2="81" stroke="#231f20" stroke-width="1" stroke-dasharray="1.2 1.2"/>
<line x1="325.3" y1="77.8" x2="336.2" y2="85.1" stroke="#231f20" stroke-width="1" stroke-dasharray="1.2 1.2"/>
<rect x="463.4" y="67.4" width="160.4" height="24.3" fill="url(#cbar)"/>
<text x="459.8" y="53.1" font-size="9.4" text-anchor="middle" font-weight="normal" fill="#231f20" stroke="#231f20" stroke-width="0.14" >Volatile-rich</text>
<text x="461.5" y="63.8" font-size="9.4" text-anchor="middle" font-weight="normal" fill="#231f20" stroke="#231f20" stroke-width="0.14" >magma</text>
<text x="618.6" y="52.4" font-size="9.4" text-anchor="middle" font-weight="normal" fill="#231f20" stroke="#231f20" stroke-width="0.14" >Outgassed</text>
<text x="620.3" y="63.8" font-size="9.4" text-anchor="middle" font-weight="normal" fill="#231f20" stroke="#231f20" stroke-width="0.14" >magma</text>
<path d="M80.1,363.4 C80.22,362.17 80.48,358.57 80.8,356 C81.12,353.43 81.5,350.67 82,348 C82.5,345.33 83.15,342.5 83.8,340 C84.45,337.5 85.13,334.92 85.9,333 C86.67,331.08 87.2,329.83 88.4,328.5 C89.6,327.17 90.98,326.25 93.1,325 C95.22,323.75 98.28,322.35 101.1,321 C103.92,319.65 106.83,318.27 110,316.9 C113.17,315.53 117.07,313.95 120.1,312.8 C123.13,311.65 125.67,310.97 128.2,310 C130.73,309.03 133.28,308.1 135.3,307 C137.32,305.9 138.97,304.53 140.3,303.4 C141.63,302.27 142.45,301.27 143.3,300.2 C144.15,299.13 144.78,298.32 145.4,297 C146.02,295.68 146.58,294.13 147,292.3 C147.42,290.47 147.67,288.22 147.9,286 C148.13,283.78 148.23,281.17 148.4,279 C148.57,276.83 148.73,274.8 148.9,273 C149.07,271.2 149.23,269.13 149.4,268.2 C149.57,267.27 149.82,267.53 149.9,267.4 L149.9,267.4 C150,267.53 150.32,267.77 150.5,268.2 C150.68,268.63 150.87,268.7 151,270 C151.13,271.3 151.22,273.67 151.3,276 C151.38,278.33 151.4,281.33 151.5,284 C151.6,286.67 151.73,289.33 151.9,292 C152.07,294.67 152.3,297.67 152.5,300 C152.7,302.33 152.95,304.32 153.1,306 C153.25,307.68 153.43,308.23 153.4,310.1 C153.37,311.97 153.23,315.02 152.9,317.2 C152.57,319.38 152.15,321.35 151.4,323.2 C150.65,325.05 149.75,326.62 148.4,328.3 C147.05,329.98 145.15,331.78 143.3,333.3 C141.45,334.82 138.98,336.05 137.3,337.4 C135.62,338.75 134.4,340.05 133.2,341.4 C132,342.75 131.38,343.82 130.1,345.5 C128.82,347.18 127,349.65 125.5,351.5 C124,353.35 122.73,354.95 121.1,356.6 C119.47,358.25 117.07,360.25 115.7,361.4 C114.33,362.55 113.37,363.15 112.9,363.5 Z" fill="url(#gB)" stroke="#231f20" stroke-width="0.4"/>
<path d="M145.9,260.2 L153.4,260.2 L149.8,267.6 Z" fill="#4a0709"/>
<rect x="148.1" y="262" width="0.8" height="0.8" fill="#fff"/>
<rect x="150.6" y="262" width="0.8" height="0.8" fill="#fff"/>
<rect x="148.9" y="264" width="0.8" height="0.8" fill="#fff"/>
<rect x="151.6" y="261.5" width="0.8" height="0.8" fill="#fff"/>
<rect x="150.1" y="265.5" width="0.8" height="0.8" fill="#fff"/>
<circle cx="124.36" cy="318.99" r="0.51" fill="#ffffff" fill-opacity="0.95"/>
<circle cx="142.69" cy="309.08" r="0.53" fill="#ffffff" fill-opacity="0.95"/>
<circle cx="130.13" cy="342.86" r="0.59" fill="#ffffff" fill-opacity="0.95"/>
<circle cx="115.59" cy="344.03" r="0.51" fill="#ffffff" fill-opacity="0.95"/>
<circle cx="144.68" cy="315.87" r="0.52" fill="#ffffff" fill-opacity="0.95"/>
<circle cx="130.85" cy="319.27" r="0.58" fill="#ffffff" fill-opacity="0.95"/>
<circle cx="103.58" cy="331.9" r="0.56" fill="#ffffff" fill-opacity="0.95"/>
<circle cx="110.39" cy="328.01" r="0.57" fill="#ffffff" fill-opacity="0.95"/>
<circle cx="109.49" cy="336.57" r="0.6" fill="#ffffff" fill-opacity="0.95"/>
<circle cx="105.98" cy="327.55" r="0.58" fill="#ffffff" fill-opacity="0.95"/>
<circle cx="108.74" cy="344.19" r="0.52" fill="#ffffff" fill-opacity="0.95"/>
<circle cx="116.94" cy="335.04" r="0.52" fill="#ffffff" fill-opacity="0.95"/>
<circle cx="132.7" cy="335.35" r="0.59" fill="#ffffff" fill-opacity="0.95"/>
<circle cx="128.05" cy="327.78" r="0.57" fill="#ffffff" fill-opacity="0.95"/>
<circle cx="120.47" cy="331.23" r="0.51" fill="#ffffff" fill-opacity="0.95"/>
<circle cx="134.79" cy="330.53" r="0.65" fill="#ffffff" fill-opacity="0.95"/>
<circle cx="139" cy="309.3" r="0.54" fill="#ffffff" fill-opacity="0.95"/>
<circle cx="115.23" cy="339.73" r="0.51" fill="#ffffff" fill-opacity="0.95"/>
<circle cx="118.9" cy="326.53" r="0.63" fill="#ffffff" fill-opacity="0.95"/>
<circle cx="108.14" cy="321.03" r="0.55" fill="#ffffff" fill-opacity="0.95"/>
<circle cx="113.86" cy="327.22" r="0.64" fill="#ffffff" fill-opacity="0.95"/>
<circle cx="134.1" cy="325.14" r="0.59" fill="#ffffff" fill-opacity="0.95"/>
<circle cx="115.32" cy="320.36" r="0.52" fill="#ffffff" fill-opacity="0.95"/>
<circle cx="145.68" cy="329.18" r="0.52" fill="#ffffff" fill-opacity="0.95"/>
<circle cx="92.06" cy="342.99" r="0.58" fill="#ffffff" fill-opacity="0.95"/>
<circle cx="99.84" cy="326.27" r="0.5" fill="#ffffff" fill-opacity="0.95"/>
<circle cx="123.87" cy="344.12" r="0.63" fill="#ffffff" fill-opacity="0.95"/>
<circle cx="134.46" cy="314.71" r="0.56" fill="#ffffff" fill-opacity="0.95"/>
<circle cx="101.12" cy="335.65" r="0.58" fill="#ffffff" fill-opacity="0.95"/>
<circle cx="139.68" cy="317.52" r="0.53" fill="#ffffff" fill-opacity="0.95"/>
<circle cx="118.78" cy="342.42" r="0.65" fill="#ffffff" fill-opacity="0.95"/>
<circle cx="150.77" cy="318.95" r="0.53" fill="#ffffff" fill-opacity="0.95"/>
<circle cx="143.55" cy="323.66" r="0.6" fill="#ffffff" fill-opacity="0.95"/>
<circle cx="137.86" cy="323.6" r="0.53" fill="#ffffff" fill-opacity="0.95"/>
<circle cx="100.12" cy="341.1" r="0.62" fill="#ffffff" fill-opacity="0.95"/>
<circle cx="127.55" cy="314.63" r="0.56" fill="#ffffff" fill-opacity="0.95"/>
<path d="M54.6,251.1 L56.5,252.1 L58.2,255 L62.3,258 L66.7,259.1 L70.4,261.6 L72.6,266.7 L75.2,277.7 L77.7,278.7 L79.1,277.7 L81.3,272.3 L84.2,268.9 L87.2,271.8 L91.5,275.2 L95.9,274.3 L101.8,269.6 L106.1,253.6 L110.5,235.3 L112.7,236.1 L116.1,238.8 L119.3,235.1 L124.1,221.4 L126.5,222.2 L128.9,225.9 L132.1,227.8 L135.1,236.5 L137.7,243.9 L142.6,253.5 L146,260.2 L149.5,267.4" fill="none" stroke="#231f20" stroke-width="0.85" stroke-linejoin="round"/>
<path d="M150.8,267.4 L153.3,260.2 L156.2,256 L159.1,251.5 L163.4,245.5 L166.1,239.5 L169.1,230.3 L173.9,238.3 L178.7,235.9 L181.9,238.3 L185.1,243.5 L188.3,248.7 L194.7,247.9 L200.4,246.3" fill="none" stroke="#231f20" stroke-width="0.85" stroke-linejoin="round"/>
<path d="M54.6,251.1 V363.2 H200.4 V246.3" fill="none" stroke="#6d6e71" stroke-width="1"/>
<text x="58.8" y="360.8" font-size="9.2" text-anchor="start" font-weight="bold" fill="#231f20" stroke="#231f20" stroke-width="0.3" >B.</text>
<path d="M239.2,363.4 C239.32,362.17 239.58,358.57 239.9,356 C240.22,353.43 240.6,350.67 241.1,348 C241.6,345.33 242.25,342.5 242.9,340 C243.55,337.5 244.23,334.92 245,333 C245.77,331.08 246.3,329.83 247.5,328.5 C248.7,327.17 250.08,326.25 252.2,325 C254.32,323.75 257.38,322.35 260.2,321 C263.02,319.65 265.93,318.27 269.1,316.9 C272.27,315.53 276.17,313.95 279.2,312.8 C282.23,311.65 284.77,310.97 287.3,310 C289.83,309.03 292.38,308.1 294.4,307 C296.42,305.9 298.07,304.53 299.4,303.4 C300.73,302.27 301.55,301.27 302.4,300.2 C303.25,299.13 303.88,298.32 304.5,297 C305.12,295.68 305.68,294.13 306.1,292.3 C306.52,290.47 306.73,287.88 307,286 C307.27,284.12 307.67,282.83 307.7,281 C307.73,279.17 307.43,277.1 307.2,275 C306.97,272.9 306.68,270.48 306.3,268.4 C305.92,266.32 305.43,264.13 304.9,262.5 C304.37,260.87 303.8,260.05 303.1,258.6 C302.4,257.15 301.5,255.57 300.7,253.8 C299.9,252.03 299.07,249.9 298.3,248 C297.53,246.1 296.47,243.33 296.1,242.4 L322.9,242.4 C322.27,243.48 320.33,246.97 319.1,248.9 C317.87,250.83 316.53,252.38 315.5,254 C314.47,255.62 313.57,257.1 312.9,258.6 C312.23,260.1 311.92,261.07 311.5,263 C311.08,264.93 310.67,267.87 310.4,270.2 C310.13,272.53 309.93,274.53 309.9,277 C309.87,279.47 310.02,282.5 310.2,285 C310.38,287.5 310.77,289.5 311,292 C311.23,294.5 311.4,297.67 311.6,300 C311.8,302.33 312.05,304.32 312.2,306 C312.35,307.68 312.53,308.23 312.5,310.1 C312.47,311.97 312.33,315.02 312,317.2 C311.67,319.38 311.25,321.35 310.5,323.2 C309.75,325.05 308.85,326.62 307.5,328.3 C306.15,329.98 304.25,331.78 302.4,333.3 C300.55,334.82 298.08,336.05 296.4,337.4 C294.72,338.75 293.5,340.05 292.3,341.4 C291.1,342.75 290.48,343.82 289.2,345.5 C287.92,347.18 286.1,349.65 284.6,351.5 C283.1,353.35 281.83,354.95 280.2,356.6 C278.57,358.25 276.17,360.25 274.8,361.4 C273.43,362.55 272.47,363.15 272,363.5 Z" fill="url(#gC)" stroke="#231f20" stroke-width="0.4"/>
<circle cx="305.9" cy="251.6" r="0.61" fill="#ffffff" fill-opacity="1"/>
<circle cx="310.53" cy="252.85" r="0.36" fill="#ffffff" fill-opacity="1"/>
<circle cx="308.14" cy="246.32" r="0.35" fill="#ffffff" fill-opacity="1"/>
<circle cx="317.48" cy="246.11" r="0.56" fill="#ffffff" fill-opacity="1"/>
<circle cx="315.56" cy="253.48" r="0.5" fill="#ffffff" fill-opacity="1"/>
<circle cx="303.16" cy="248.12" r="0.7" fill="#ffffff" fill-opacity="1"/>
<circle cx="312.63" cy="252.51" r="0.58" fill="#ffffff" fill-opacity="1"/>
<circle cx="314.71" cy="251.49" r="0.59" fill="#ffffff" fill-opacity="1"/>
<circle cx="309.13" cy="260.88" r="0.66" fill="#ffffff" fill-opacity="1"/>
<circle cx="303.45" cy="253.54" r="0.77" fill="#ffffff" fill-opacity="1"/>
<circle cx="308.2" cy="244.19" r="0.46" fill="#ffffff" fill-opacity="1"/>
<circle cx="313.87" cy="245.55" r="0.75" fill="#ffffff" fill-opacity="1"/>
<circle cx="300.9" cy="251.09" r="0.58" fill="#ffffff" fill-opacity="1"/>
<circle cx="305.52" cy="246.56" r="0.49" fill="#ffffff" fill-opacity="1"/>
<circle cx="315.48" cy="243.17" r="0.6" fill="#ffffff" fill-opacity="1"/>
<circle cx="303.6" cy="243.56" r="0.7" fill="#ffffff" fill-opacity="1"/>
<circle cx="303.42" cy="245.67" r="0.76" fill="#ffffff" fill-opacity="1"/>
<circle cx="311.54" cy="256.25" r="0.39" fill="#ffffff" fill-opacity="1"/>
<circle cx="308.5" cy="249.31" r="0.6" fill="#ffffff" fill-opacity="1"/>
<circle cx="298.01" cy="246.67" r="0.49" fill="#ffffff" fill-opacity="1"/>
<circle cx="304.63" cy="257.38" r="0.48" fill="#ffffff" fill-opacity="1"/>
<circle cx="309.7" cy="246.22" r="0.51" fill="#ffffff" fill-opacity="1"/>
<circle cx="321" cy="244.84" r="0.72" fill="#ffffff" fill-opacity="1"/>
<circle cx="307.94" cy="252.3" r="0.73" fill="#ffffff" fill-opacity="1"/>
<circle cx="313.24" cy="250.57" r="0.51" fill="#ffffff" fill-opacity="1"/>
<circle cx="315.96" cy="247.71" r="0.42" fill="#ffffff" fill-opacity="1"/>
<circle cx="304.75" cy="249.65" r="0.35" fill="#ffffff" fill-opacity="1"/>
<circle cx="301.93" cy="252.49" r="0.35" fill="#ffffff" fill-opacity="1"/>
<circle cx="297.78" cy="243.23" r="0.49" fill="#ffffff" fill-opacity="1"/>
<circle cx="300.32" cy="252.86" r="0.58" fill="#ffffff" fill-opacity="1"/>
<circle cx="313.02" cy="254.82" r="0.66" fill="#ffffff" fill-opacity="1"/>
<circle cx="309.42" cy="242.86" r="0.71" fill="#ffffff" fill-opacity="1"/>
<circle cx="311.46" cy="243.04" r="0.38" fill="#ffffff" fill-opacity="1"/>
<circle cx="303.69" cy="255.7" r="0.66" fill="#ffffff" fill-opacity="1"/>
<circle cx="314.27" cy="248.38" r="0.58" fill="#ffffff" fill-opacity="1"/>
<circle cx="311.82" cy="245.52" r="0.59" fill="#ffffff" fill-opacity="1"/>
<circle cx="300.36" cy="249.4" r="0.49" fill="#ffffff" fill-opacity="1"/>
<circle cx="318.55" cy="242.83" r="0.69" fill="#ffffff" fill-opacity="1"/>
<circle cx="304.13" cy="260.76" r="0.46" fill="#ffffff" fill-opacity="1"/>
<circle cx="306.41" cy="261.16" r="0.75" fill="#ffffff" fill-opacity="1"/>
<circle cx="300.33" cy="246.49" r="0.39" fill="#ffffff" fill-opacity="1"/>
<circle cx="305.59" cy="244.55" r="0.46" fill="#ffffff" fill-opacity="1"/>
<circle cx="284.63" cy="312.58" r="0.52" fill="#ffffff" fill-opacity="1"/>
<circle cx="281.62" cy="321.84" r="0.66" fill="#ffffff" fill-opacity="1"/>
<circle cx="291.78" cy="309.37" r="0.6" fill="#ffffff" fill-opacity="1"/>
<circle cx="266.89" cy="322.45" r="0.62" fill="#ffffff" fill-opacity="1"/>
<circle cx="295.27" cy="309.53" r="0.7" fill="#ffffff" fill-opacity="1"/>
<circle cx="293.49" cy="314.48" r="0.77" fill="#ffffff" fill-opacity="1"/>
<circle cx="308.28" cy="305.98" r="0.64" fill="#ffffff" fill-opacity="1"/>
<circle cx="308.66" cy="310.49" r="0.87" fill="#ffffff" fill-opacity="1"/>
<circle cx="292.9" cy="312.66" r="0.63" fill="#ffffff" fill-opacity="1"/>
<circle cx="309.98" cy="313.01" r="0.67" fill="#ffffff" fill-opacity="1"/>
<circle cx="298.12" cy="306.88" r="0.51" fill="#ffffff" fill-opacity="1"/>
<circle cx="311.98" cy="307.66" r="0.54" fill="#ffffff" fill-opacity="1"/>
<circle cx="287.82" cy="310.36" r="0.9" fill="#ffffff" fill-opacity="1"/>
<circle cx="307.65" cy="297.78" r="0.55" fill="#ffffff" fill-opacity="1"/>
<circle cx="268.74" cy="322.37" r="0.58" fill="#ffffff" fill-opacity="1"/>
<circle cx="270.41" cy="318.93" r="0.54" fill="#ffffff" fill-opacity="1"/>
<circle cx="310.75" cy="304.68" r="0.88" fill="#ffffff" fill-opacity="1"/>
<circle cx="302.62" cy="304.05" r="0.66" fill="#ffffff" fill-opacity="1"/>
<circle cx="280.06" cy="315.29" r="0.75" fill="#ffffff" fill-opacity="1"/>
<circle cx="264.13" cy="328.72" r="0.83" fill="#ffffff" fill-opacity="1"/>
<circle cx="290.05" cy="315.02" r="0.86" fill="#ffffff" fill-opacity="1"/>
<circle cx="257.14" cy="330.27" r="0.72" fill="#ffffff" fill-opacity="1"/>
<circle cx="309.21" cy="302.26" r="0.74" fill="#ffffff" fill-opacity="1"/>
<circle cx="269.39" cy="320.37" r="0.82" fill="#ffffff" fill-opacity="1"/>
<circle cx="298.38" cy="305.02" r="0.67" fill="#ffffff" fill-opacity="1"/>
<circle cx="278.06" cy="315.2" r="0.64" fill="#ffffff" fill-opacity="1"/>
<circle cx="294.97" cy="317.93" r="0.75" fill="#ffffff" fill-opacity="1"/>
<circle cx="305.92" cy="306.47" r="0.62" fill="#ffffff" fill-opacity="1"/>
<circle cx="296.96" cy="315.14" r="0.76" fill="#ffffff" fill-opacity="1"/>
<circle cx="311.78" cy="311.64" r="0.61" fill="#ffffff" fill-opacity="1"/>
<circle cx="281.99" cy="314.85" r="0.76" fill="#ffffff" fill-opacity="1"/>
<circle cx="299.5" cy="311.24" r="0.86" fill="#ffffff" fill-opacity="1"/>
<circle cx="282.69" cy="317.92" r="0.85" fill="#ffffff" fill-opacity="1"/>
<circle cx="275.3" cy="316.88" r="0.81" fill="#ffffff" fill-opacity="1"/>
<circle cx="277.52" cy="318.16" r="0.7" fill="#ffffff" fill-opacity="1"/>
<circle cx="271.35" cy="321.8" r="0.81" fill="#ffffff" fill-opacity="1"/>
<circle cx="307.9" cy="315.64" r="0.65" fill="#ffffff" fill-opacity="1"/>
<circle cx="296.14" cy="306.66" r="0.57" fill="#ffffff" fill-opacity="1"/>
<circle cx="287.62" cy="315.3" r="0.56" fill="#ffffff" fill-opacity="1"/>
<circle cx="301.34" cy="308.47" r="0.61" fill="#ffffff" fill-opacity="1"/>
<circle cx="293.68" cy="316.47" r="0.6" fill="#ffffff" fill-opacity="1"/>
<circle cx="287" cy="313.71" r="0.56" fill="#ffffff" fill-opacity="1"/>
<circle cx="262.91" cy="322.28" r="0.71" fill="#ffffff" fill-opacity="1"/>
<circle cx="310.54" cy="307.18" r="0.58" fill="#ffffff" fill-opacity="1"/>
<circle cx="275.6" cy="322.18" r="0.71" fill="#ffffff" fill-opacity="1"/>
<circle cx="280" cy="318.69" r="0.79" fill="#ffffff" fill-opacity="1"/>
<circle cx="291.03" cy="312.04" r="0.53" fill="#ffffff" fill-opacity="1"/>
<circle cx="305.89" cy="297.51" r="0.77" fill="#ffffff" fill-opacity="1"/>
<circle cx="266.77" cy="318.55" r="0.73" fill="#ffffff" fill-opacity="1"/>
<circle cx="305.11" cy="315.36" r="0.66" fill="#ffffff" fill-opacity="1"/>
<circle cx="287.65" cy="321.59" r="0.87" fill="#ffffff" fill-opacity="1"/>
<circle cx="271.8" cy="326.39" r="0.62" fill="#ffffff" fill-opacity="1"/>
<circle cx="283.07" cy="320.34" r="0.76" fill="#ffffff" fill-opacity="1"/>
<circle cx="302.42" cy="311.45" r="0.61" fill="#ffffff" fill-opacity="1"/>
<circle cx="302.97" cy="301.62" r="0.83" fill="#ffffff" fill-opacity="1"/>
<circle cx="301.19" cy="303.01" r="0.79" fill="#ffffff" fill-opacity="1"/>
<circle cx="274.47" cy="323.67" r="0.55" fill="#ffffff" fill-opacity="1"/>
<circle cx="272.04" cy="324.09" r="0.84" fill="#ffffff" fill-opacity="1"/>
<circle cx="299.51" cy="308.6" r="0.84" fill="#ffffff" fill-opacity="1"/>
<circle cx="305.9" cy="302.24" r="0.83" fill="#ffffff" fill-opacity="1"/>
<circle cx="295.1" cy="315.71" r="0.63" fill="#ffffff" fill-opacity="1"/>
<circle cx="279.85" cy="320.79" r="0.58" fill="#ffffff" fill-opacity="1"/>
<circle cx="261.77" cy="330.15" r="0.59" fill="#ffffff" fill-opacity="1"/>
<circle cx="293.29" cy="308" r="0.7" fill="#ffffff" fill-opacity="1"/>
<circle cx="274.38" cy="320.23" r="0.52" fill="#ffffff" fill-opacity="1"/>
<circle cx="306.75" cy="308.14" r="0.51" fill="#ffffff" fill-opacity="1"/>
<circle cx="311.37" cy="315.94" r="0.71" fill="#ffffff" fill-opacity="1"/>
<circle cx="267.16" cy="329.29" r="0.51" fill="#ffffff" fill-opacity="1"/>
<circle cx="264.26" cy="326.16" r="0.8" fill="#ffffff" fill-opacity="1"/>
<circle cx="296.85" cy="308.01" r="0.61" fill="#ffffff" fill-opacity="1"/>
<circle cx="283.72" cy="313.96" r="0.65" fill="#ffffff" fill-opacity="1"/>
<circle cx="296.05" cy="313.57" r="0.67" fill="#ffffff" fill-opacity="1"/>
<circle cx="284.5" cy="316.97" r="0.56" fill="#ffffff" fill-opacity="1"/>
<circle cx="265.55" cy="321.1" r="0.57" fill="#ffffff" fill-opacity="1"/>
<circle cx="304.24" cy="307.31" r="0.71" fill="#ffffff" fill-opacity="1"/>
<circle cx="272.24" cy="319.46" r="0.73" fill="#ffffff" fill-opacity="1"/>
<circle cx="304.6" cy="299.16" r="0.87" fill="#ffffff" fill-opacity="1"/>
<circle cx="276.12" cy="324.19" r="0.72" fill="#ffffff" fill-opacity="1"/>
<circle cx="273.35" cy="315.78" r="0.8" fill="#ffffff" fill-opacity="1"/>
<circle cx="296.03" cy="311.36" r="0.89" fill="#ffffff" fill-opacity="1"/>
<circle cx="283.09" cy="312" r="0.52" fill="#ffffff" fill-opacity="1"/>
<circle cx="277.52" cy="321.24" r="0.84" fill="#ffffff" fill-opacity="1"/>
<circle cx="307.14" cy="312.83" r="0.74" fill="#ffffff" fill-opacity="1"/>
<circle cx="275.31" cy="319.01" r="0.6" fill="#ffffff" fill-opacity="1"/>
<circle cx="304.72" cy="305.34" r="0.61" fill="#ffffff" fill-opacity="1"/>
<circle cx="265.81" cy="325.17" r="0.55" fill="#ffffff" fill-opacity="1"/>
<circle cx="292.23" cy="318.64" r="0.69" fill="#ffffff" fill-opacity="1"/>
<circle cx="273.95" cy="325.42" r="0.65" fill="#ffffff" fill-opacity="1"/>
<circle cx="307.67" cy="300.58" r="0.62" fill="#ffffff" fill-opacity="1"/>
<circle cx="300.06" cy="306.25" r="0.88" fill="#ffffff" fill-opacity="1"/>
<circle cx="310.55" cy="298.25" r="0.81" fill="#ffffff" fill-opacity="1"/>
<circle cx="311.03" cy="301.15" r="0.8" fill="#ffffff" fill-opacity="1"/>
<circle cx="290.17" cy="309.34" r="0.59" fill="#ffffff" fill-opacity="1"/>
<circle cx="291.41" cy="316.98" r="0.65" fill="#ffffff" fill-opacity="1"/>
<circle cx="258.85" cy="330.19" r="0.61" fill="#ffffff" fill-opacity="1"/>
<circle cx="302.31" cy="306.62" r="0.69" fill="#ffffff" fill-opacity="1"/>
<circle cx="283.82" cy="321.87" r="0.61" fill="#ffffff" fill-opacity="1"/>
<circle cx="275.47" cy="315.03" r="0.62" fill="#ffffff" fill-opacity="1"/>
<circle cx="305.48" cy="311.74" r="0.75" fill="#ffffff" fill-opacity="1"/>
<circle cx="268.96" cy="324.36" r="0.75" fill="#ffffff" fill-opacity="1"/>
<circle cx="257.96" cy="323.46" r="0.56" fill="#ffffff" fill-opacity="1"/>
<circle cx="285.43" cy="315.35" r="0.83" fill="#ffffff" fill-opacity="1"/>
<circle cx="260.52" cy="328.17" r="0.87" fill="#ffffff" fill-opacity="1"/>
<circle cx="259.36" cy="325.07" r="0.69" fill="#ffffff" fill-opacity="1"/>
<circle cx="281.41" cy="313.05" r="0.82" fill="#ffffff" fill-opacity="1"/>
<circle cx="307.28" cy="303.28" r="0.55" fill="#ffffff" fill-opacity="1"/>
<circle cx="256.17" cy="332.56" r="0.63" fill="#ffffff" fill-opacity="1"/>
<circle cx="288.6" cy="319.31" r="0.54" fill="#ffffff" fill-opacity="1"/>
<circle cx="285.94" cy="311.7" r="0.73" fill="#ffffff" fill-opacity="1"/>
<circle cx="268.8" cy="318.44" r="0.59" fill="#ffffff" fill-opacity="1"/>
<circle cx="256.37" cy="324.59" r="0.6" fill="#ffffff" fill-opacity="1"/>
<circle cx="267.4" cy="323.89" r="0.53" fill="#ffffff" fill-opacity="1"/>
<circle cx="266.62" cy="326.87" r="0.78" fill="#ffffff" fill-opacity="1"/>
<circle cx="287.03" cy="319.18" r="0.63" fill="#ffffff" fill-opacity="1"/>
<circle cx="268.27" cy="326.18" r="0.51" fill="#ffffff" fill-opacity="1"/>
<circle cx="265.48" cy="323.15" r="0.58" fill="#ffffff" fill-opacity="1"/>
<circle cx="308.67" cy="308.45" r="0.73" fill="#ffffff" fill-opacity="1"/>
<circle cx="278.51" cy="324.3" r="0.74" fill="#ffffff" fill-opacity="1"/>
<circle cx="271.48" cy="317.44" r="0.78" fill="#ffffff" fill-opacity="1"/>
<circle cx="263.99" cy="319.77" r="0.69" fill="#ffffff" fill-opacity="1"/>
<circle cx="263.64" cy="324.22" r="0.87" fill="#ffffff" fill-opacity="1"/>
<circle cx="259.36" cy="322.32" r="0.8" fill="#ffffff" fill-opacity="1"/>
<circle cx="298.02" cy="309.91" r="0.72" fill="#ffffff" fill-opacity="1"/>
<circle cx="302.88" cy="309.7" r="0.71" fill="#ffffff" fill-opacity="1"/>
<circle cx="284.54" cy="318.54" r="0.57" fill="#ffffff" fill-opacity="1"/>
<circle cx="288.93" cy="313.31" r="0.58" fill="#ffffff" fill-opacity="1"/>
<circle cx="293.38" cy="310.49" r="0.79" fill="#ffffff" fill-opacity="1"/>
<circle cx="258.29" cy="326.97" r="0.69" fill="#ffffff" fill-opacity="1"/>
<circle cx="311.05" cy="309.96" r="0.71" fill="#ffffff" fill-opacity="1"/>
<circle cx="305.53" cy="309.73" r="0.56" fill="#ffffff" fill-opacity="1"/>
<circle cx="261.01" cy="324.33" r="0.63" fill="#ffffff" fill-opacity="1"/>
<circle cx="294.56" cy="312.89" r="0.66" fill="#ffffff" fill-opacity="1"/>
<circle cx="260.39" cy="331.33" r="0.58" fill="#ffffff" fill-opacity="1"/>
<circle cx="270.1" cy="326.34" r="0.56" fill="#ffffff" fill-opacity="1"/>
<circle cx="286.4" cy="317.72" r="0.51" fill="#ffffff" fill-opacity="1"/>
<circle cx="281.44" cy="319.81" r="0.65" fill="#ffffff" fill-opacity="1"/>
<circle cx="273.66" cy="317.96" r="0.52" fill="#ffffff" fill-opacity="1"/>
<circle cx="290.07" cy="320.48" r="0.82" fill="#ffffff" fill-opacity="1"/>
<circle cx="308.7" cy="299.35" r="0.57" fill="#ffffff" fill-opacity="1"/>
<circle cx="303.84" cy="313.91" r="0.81" fill="#ffffff" fill-opacity="1"/>
<circle cx="312.09" cy="313.91" r="0.77" fill="#ffffff" fill-opacity="1"/>
<circle cx="305.78" cy="313.62" r="0.52" fill="#ffffff" fill-opacity="1"/>
<circle cx="255.55" cy="329.68" r="0.55" fill="#ffffff" fill-opacity="1"/>
<circle cx="288.81" cy="317.36" r="0.69" fill="#ffffff" fill-opacity="1"/>
<circle cx="307.59" cy="296.1" r="0.71" fill="#ffffff" fill-opacity="1"/>
<circle cx="302.03" cy="313.65" r="0.51" fill="#ffffff" fill-opacity="1"/>
<circle cx="298.67" cy="315.83" r="0.53" fill="#ffffff" fill-opacity="1"/>
<circle cx="305.72" cy="304.33" r="0.5" fill="#ffffff" fill-opacity="1"/>
<circle cx="256.07" cy="326.17" r="0.5" fill="#ffffff" fill-opacity="1"/>
<circle cx="273.59" cy="322" r="0.86" fill="#ffffff" fill-opacity="1"/>
<circle cx="304.34" cy="303.17" r="0.58" fill="#ffffff" fill-opacity="1"/>
<circle cx="263.3" cy="331.43" r="0.6" fill="#ffffff" fill-opacity="1"/>
<circle cx="299.47" cy="313.63" r="0.72" fill="#ffffff" fill-opacity="1"/>
<circle cx="261.2" cy="321.54" r="0.81" fill="#ffffff" fill-opacity="1"/>
<circle cx="267.21" cy="320.56" r="0.6" fill="#ffffff" fill-opacity="1"/>
<circle cx="278.99" cy="317.08" r="0.81" fill="#ffffff" fill-opacity="1"/>
<circle cx="279.86" cy="322.47" r="0.54" fill="#ffffff" fill-opacity="1"/>
<circle cx="307.06" cy="309.48" r="0.51" fill="#ffffff" fill-opacity="1"/>
<circle cx="262.27" cy="327.38" r="0.61" fill="#ffffff" fill-opacity="1"/>
<circle cx="300.41" cy="304.52" r="0.58" fill="#ffffff" fill-opacity="1"/>
<circle cx="282.2" cy="323.7" r="0.6" fill="#ffffff" fill-opacity="1"/>
<circle cx="261.96" cy="325.87" r="0.56" fill="#ffffff" fill-opacity="1"/>
<circle cx="256.6" cy="328.35" r="0.71" fill="#ffffff" fill-opacity="1"/>
<circle cx="306.54" cy="299.6" r="0.54" fill="#ffffff" fill-opacity="1"/>
<circle cx="291.81" cy="310.8" r="0.5" fill="#ffffff" fill-opacity="1"/>
<circle cx="308.46" cy="313.91" r="0.6" fill="#ffffff" fill-opacity="1"/>
<circle cx="303.09" cy="315.93" r="0.61" fill="#ffffff" fill-opacity="1"/>
<circle cx="284.97" cy="320.43" r="0.54" fill="#ffffff" fill-opacity="1"/>
<circle cx="269.94" cy="328.1" r="0.89" fill="#ffffff" fill-opacity="1"/>
<circle cx="310.98" cy="296.48" r="0.66" fill="#ffffff" fill-opacity="1"/>
<circle cx="279.1" cy="313.87" r="0.55" fill="#ffffff" fill-opacity="1"/>
<circle cx="257.78" cy="325.39" r="0.6" fill="#ffffff" fill-opacity="1"/>
<circle cx="270.08" cy="323.2" r="0.53" fill="#ffffff" fill-opacity="1"/>
<circle cx="268.12" cy="327.73" r="0.59" fill="#ffffff" fill-opacity="1"/>
<circle cx="258.71" cy="332.3" r="0.81" fill="#ffffff" fill-opacity="1"/>
<circle cx="298.24" cy="312.56" r="0.51" fill="#ffffff" fill-opacity="1"/>
<circle cx="280.98" cy="316.91" r="0.68" fill="#ffffff" fill-opacity="1"/>
<circle cx="265.51" cy="330.43" r="0.61" fill="#ffffff" fill-opacity="1"/>
<circle cx="291.5" cy="313.66" r="0.77" fill="#ffffff" fill-opacity="1"/>
<circle cx="254.82" cy="335.38" r="0.83" fill="#ffffff" fill-opacity="1"/>
<circle cx="311.58" cy="302.93" r="0.68" fill="#ffffff" fill-opacity="1"/>
<circle cx="254.64" cy="325.21" r="0.81" fill="#ffffff" fill-opacity="1"/>
<circle cx="289.7" cy="310.8" r="0.57" fill="#ffffff" fill-opacity="1"/>
<circle cx="308.86" cy="304.4" r="0.6" fill="#ffffff" fill-opacity="1"/>
<circle cx="309.75" cy="315.04" r="0.71" fill="#ffffff" fill-opacity="1"/>
<circle cx="276.09" cy="325.99" r="0.51" fill="#ffffff" fill-opacity="1"/>
<circle cx="277.21" cy="322.9" r="0.51" fill="#ffffff" fill-opacity="1"/>
<circle cx="254.13" cy="327.36" r="0.84" fill="#ffffff" fill-opacity="1"/>
<circle cx="276.1" cy="320.27" r="0.55" fill="#ffffff" fill-opacity="1"/>
<circle cx="294.93" cy="307.69" r="0.63" fill="#ffffff" fill-opacity="1"/>
<ellipse cx="308.4" cy="289.2" rx="1.4" ry="3.2" fill="#fff"/>
<ellipse cx="306.9" cy="298.9" rx="1.9" ry="1.5" fill="#fff"/>
<path d="M213.7,251.1 L215.6,252.1 L217.3,255 L221.4,258 L225.8,259.1 L229.5,261.6 L231.7,266.7 L234.3,277.7 L236.8,278.7 L238.2,277.7 L240.4,272.3 L243.3,268.9 L246.3,271.8 L250.6,275.2 L255,274.3 L260.9,269.6 L265.2,253.6 L269.6,235.3 L271.8,236.1 L275.2,238.8 L278.4,235.1 L283.2,221.4 L285.6,222.2 L288,225.9 L291.2,227.8 L294.2,236.5 L296.8,243.9 L301.7,253.5 L305.1,260.2 L308.6,267.4" fill="none" stroke="#231f20" stroke-width="0.85" stroke-linejoin="round"/>
<path d="M309.9,267.4 L312.4,260.2 L315.3,256 L318.2,251.5 L322.5,245.5 L325.2,239.5 L328.2,230.3 L333,238.3 L337.8,235.9 L341,238.3 L344.2,243.5 L347.4,248.7 L353.8,247.9 L359.5,246.3" fill="none" stroke="#231f20" stroke-width="0.85" stroke-linejoin="round"/>
<path d="M213.7,251.1 V363.2 H359.5 V246.3" fill="none" stroke="#6d6e71" stroke-width="1"/>
<text x="217.9" y="360.8" font-size="9.2" text-anchor="start" font-weight="bold" fill="#231f20" stroke="#231f20" stroke-width="0.3" >C.</text>
<path d="M402,363.4 C402.12,362.17 402.38,358.57 402.7,356 C403.02,353.43 403.4,350.67 403.9,348 C404.4,345.33 405.05,342.5 405.7,340 C406.35,337.5 407.03,334.92 407.8,333 C408.57,331.08 409.1,329.83 410.3,328.5 C411.5,327.17 412.88,326.25 415,325 C417.12,323.75 420.18,322.35 423,321 C425.82,319.65 428.73,318.27 431.9,316.9 C435.07,315.53 438.97,313.95 442,312.8 C445.03,311.65 447.57,310.97 450.1,310 C452.63,309.03 455.18,308.1 457.2,307 C459.22,305.9 460.87,304.53 462.2,303.4 C463.53,302.27 464.35,301.27 465.2,300.2 C466.05,299.13 466.68,298.32 467.3,297 C467.92,295.68 468.48,294.13 468.9,292.3 C469.32,290.47 469.53,287.88 469.8,286 C470.07,284.12 470.47,282.83 470.5,281 C470.53,279.17 470.23,277.1 470,275 C469.77,272.9 469.48,270.48 469.1,268.4 C468.72,266.32 468.23,264.13 467.7,262.5 C467.17,260.87 466.6,260.05 465.9,258.6 C465.2,257.15 464.3,255.57 463.5,253.8 C462.7,252.03 461.87,249.9 461.1,248 C460.33,246.1 459.27,243.33 458.9,242.4 L485.7,242.4 C485.07,243.48 483.13,246.97 481.9,248.9 C480.67,250.83 479.33,252.38 478.3,254 C477.27,255.62 476.37,257.1 475.7,258.6 C475.03,260.1 474.72,261.07 474.3,263 C473.88,264.93 473.47,267.87 473.2,270.2 C472.93,272.53 472.73,274.53 472.7,277 C472.67,279.47 472.82,282.5 473,285 C473.18,287.5 473.57,289.5 473.8,292 C474.03,294.5 474.2,297.67 474.4,300 C474.6,302.33 474.85,304.32 475,306 C475.15,307.68 475.33,308.23 475.3,310.1 C475.27,311.97 475.13,315.02 474.8,317.2 C474.47,319.38 474.05,321.35 473.3,323.2 C472.55,325.05 471.65,326.62 470.3,328.3 C468.95,329.98 467.05,331.78 465.2,333.3 C463.35,334.82 460.88,336.05 459.2,337.4 C457.52,338.75 456.3,340.05 455.1,341.4 C453.9,342.75 453.28,343.82 452,345.5 C450.72,347.18 448.9,349.65 447.4,351.5 C445.9,353.35 444.63,354.95 443,356.6 C441.37,358.25 438.97,360.25 437.6,361.4 C436.23,362.55 435.27,363.15 434.8,363.5 Z" fill="url(#gD)" stroke="#231f20" stroke-width="0.4"/>
<circle cx="476.51" cy="245.8" r="0.66" fill="#ffffff" fill-opacity="1"/>
<circle cx="470.61" cy="253.3" r="1.12" fill="#ffffff" fill-opacity="1"/>
<circle cx="480.99" cy="250.15" r="0.82" fill="#ffffff" fill-opacity="1"/>
<circle cx="469.26" cy="256.98" r="1.11" fill="#ffffff" fill-opacity="1"/>
<circle cx="474.12" cy="251.65" r="0.56" fill="#ffffff" fill-opacity="1"/>
<circle cx="472.29" cy="242.9" r="0.64" fill="#ffffff" fill-opacity="1"/>
<circle cx="463.68" cy="250.89" r="0.94" fill="#ffffff" fill-opacity="1"/>
<circle cx="463.08" cy="245.88" r="1.19" fill="#ffffff" fill-opacity="1"/>
<circle cx="469.64" cy="244.92" r="1.05" fill="#ffffff" fill-opacity="1"/>
<circle cx="467.28" cy="250.92" r="1.16" fill="#ffffff" fill-opacity="1"/>
<circle cx="473.88" cy="248.86" r="0.73" fill="#ffffff" fill-opacity="1"/>
<circle cx="476.62" cy="250.45" r="0.73" fill="#ffffff" fill-opacity="1"/>
<circle cx="472.83" cy="255.81" r="0.55" fill="#ffffff" fill-opacity="1"/>
<circle cx="462.04" cy="248.53" r="1.08" fill="#ffffff" fill-opacity="1"/>
<circle cx="478.19" cy="247.86" r="1.12" fill="#ffffff" fill-opacity="1"/>
<circle cx="466.76" cy="255.7" r="0.81" fill="#ffffff" fill-opacity="1"/>
<circle cx="473.13" cy="247.14" r="0.63" fill="#ffffff" fill-opacity="1"/>
<circle cx="479.39" cy="244.81" r="0.7" fill="#ffffff" fill-opacity="1"/>
<circle cx="459.74" cy="244.09" r="1.06" fill="#ffffff" fill-opacity="1"/>
<circle cx="467.74" cy="246.61" r="0.81" fill="#ffffff" fill-opacity="1"/>
<circle cx="471.8" cy="249.88" r="0.7" fill="#ffffff" fill-opacity="1"/>
<circle cx="477.21" cy="242.86" r="1.21" fill="#ffffff" fill-opacity="1"/>
<circle cx="483.38" cy="245.99" r="0.57" fill="#ffffff" fill-opacity="1"/>
<circle cx="481.49" cy="244.73" r="0.84" fill="#ffffff" fill-opacity="1"/>
<circle cx="474.68" cy="254.39" r="0.94" fill="#ffffff" fill-opacity="1"/>
<circle cx="470.23" cy="248.56" r="0.72" fill="#ffffff" fill-opacity="1"/>
<circle cx="473.67" cy="244.56" r="0.69" fill="#ffffff" fill-opacity="1"/>
<circle cx="465.37" cy="244.33" r="0.79" fill="#ffffff" fill-opacity="1"/>
<circle cx="462.04" cy="243.58" r="0.65" fill="#ffffff" fill-opacity="1"/>
<circle cx="477.54" cy="255" r="0.61" fill="#ffffff" fill-opacity="1"/>
<circle cx="468.54" cy="243.12" r="0.58" fill="#ffffff" fill-opacity="1"/>
<circle cx="474.94" cy="247.03" r="0.59" fill="#ffffff" fill-opacity="1"/>
<circle cx="478.3" cy="251.53" r="0.65" fill="#ffffff" fill-opacity="1"/>
<circle cx="468.09" cy="253.21" r="0.6" fill="#ffffff" fill-opacity="1"/>
<circle cx="474.1" cy="257.86" r="0.97" fill="#ffffff" fill-opacity="1"/>
<circle cx="470" cy="250.71" r="0.66" fill="#ffffff" fill-opacity="1"/>
<circle cx="476.74" cy="252.69" r="0.69" fill="#ffffff" fill-opacity="1"/>
<circle cx="465.63" cy="253.75" r="0.75" fill="#ffffff" fill-opacity="1"/>
<circle cx="481.83" cy="247.54" r="0.93" fill="#ffffff" fill-opacity="1"/>
<circle cx="484.1" cy="244.47" r="0.6" fill="#ffffff" fill-opacity="1"/>
<ellipse cx="469.9" cy="260" rx="1.3" ry="2.6" fill="#fff"/>
<ellipse cx="471.4" cy="269.5" rx="1.05" ry="3.6" fill="#fff"/>
<ellipse cx="471.6" cy="278" rx="1" ry="2" fill="#fff"/>
<ellipse cx="471.6" cy="283.6" rx="1" ry="1.5" fill="#fff"/>
<ellipse cx="471.4" cy="289.2" rx="1.2" ry="2" fill="#fff"/>
<ellipse cx="470.7" cy="297.6" rx="2" ry="2.1" fill="#fff"/>
<circle cx="424.73" cy="327.46" r="0.88" fill="#ffffff" fill-opacity="1"/>
<circle cx="465.13" cy="306.67" r="1.07" fill="#ffffff" fill-opacity="1"/>
<circle cx="409.94" cy="333.77" r="0.65" fill="#ffffff" fill-opacity="1"/>
<circle cx="458.2" cy="325.56" r="1.36" fill="#ffffff" fill-opacity="1"/>
<circle cx="414.26" cy="344.39" r="0.51" fill="#ffffff" fill-opacity="1"/>
<circle cx="415.92" cy="342.02" r="0.73" fill="#ffffff" fill-opacity="1"/>
<circle cx="428.28" cy="320.13" r="0.59" fill="#ffffff" fill-opacity="1"/>
<circle cx="424.06" cy="323.7" r="0.74" fill="#ffffff" fill-opacity="1"/>
<circle cx="426.46" cy="334.31" r="0.79" fill="#ffffff" fill-opacity="1"/>
<circle cx="465.21" cy="316.03" r="1.08" fill="#ffffff" fill-opacity="1"/>
<circle cx="418.76" cy="330.85" r="0.83" fill="#ffffff" fill-opacity="1"/>
<circle cx="450.8" cy="325.86" r="0.96" fill="#ffffff" fill-opacity="1"/>
<circle cx="452.02" cy="319.79" r="1.07" fill="#ffffff" fill-opacity="1"/>
<circle cx="440.48" cy="321.56" r="0.83" fill="#ffffff" fill-opacity="1"/>
<circle cx="417.43" cy="339.25" r="0.53" fill="#ffffff" fill-opacity="1"/>
<circle cx="449.26" cy="319.47" r="1.02" fill="#ffffff" fill-opacity="1"/>
<circle cx="437.57" cy="326.52" r="0.92" fill="#ffffff" fill-opacity="1"/>
<circle cx="442.59" cy="317.09" r="0.89" fill="#ffffff" fill-opacity="1"/>
<circle cx="430.86" cy="335.35" r="0.78" fill="#ffffff" fill-opacity="1"/>
<circle cx="420.95" cy="332.04" r="0.67" fill="#ffffff" fill-opacity="1"/>
<circle cx="421.11" cy="326.06" r="0.62" fill="#ffffff" fill-opacity="1"/>
<circle cx="437.08" cy="330.78" r="0.96" fill="#ffffff" fill-opacity="1"/>
<circle cx="428.35" cy="337.93" r="0.64" fill="#ffffff" fill-opacity="1"/>
<circle cx="450.39" cy="317.27" r="0.89" fill="#ffffff" fill-opacity="1"/>
<circle cx="413.37" cy="335.38" r="0.55" fill="#ffffff" fill-opacity="1"/>
<circle cx="412.88" cy="337.65" r="0.53" fill="#ffffff" fill-opacity="1"/>
<circle cx="437.21" cy="317.3" r="1.05" fill="#ffffff" fill-opacity="1"/>
<circle cx="440.36" cy="328.06" r="1.07" fill="#ffffff" fill-opacity="1"/>
<circle cx="419.11" cy="342.49" r="0.5" fill="#ffffff" fill-opacity="1"/>
<circle cx="426.57" cy="329.93" r="0.92" fill="#ffffff" fill-opacity="1"/>
<circle cx="437.08" cy="333.1" r="0.7" fill="#ffffff" fill-opacity="1"/>
<circle cx="428.98" cy="341.64" r="0.59" fill="#ffffff" fill-opacity="1"/>
<circle cx="415.27" cy="328.78" r="0.63" fill="#ffffff" fill-opacity="1"/>
<circle cx="462.56" cy="305.38" r="1.21" fill="#ffffff" fill-opacity="1"/>
<circle cx="418.3" cy="325.82" r="0.71" fill="#ffffff" fill-opacity="1"/>
<circle cx="414.82" cy="340.28" r="0.5" fill="#ffffff" fill-opacity="1"/>
<circle cx="458.78" cy="307.48" r="1.36" fill="#ffffff" fill-opacity="1"/>
<circle cx="422.7" cy="334.25" r="0.89" fill="#ffffff" fill-opacity="1"/>
<circle cx="406.9" cy="338.73" r="0.5" fill="#ffffff" fill-opacity="1"/>
<circle cx="417" cy="344.78" r="0.68" fill="#ffffff" fill-opacity="1"/>
<circle cx="449.13" cy="328.32" r="0.96" fill="#ffffff" fill-opacity="1"/>
<circle cx="461.86" cy="320.06" r="1.09" fill="#ffffff" fill-opacity="1"/>
<circle cx="461.81" cy="325.28" r="1.04" fill="#ffffff" fill-opacity="1"/>
<circle cx="465.59" cy="320.98" r="1.12" fill="#ffffff" fill-opacity="1"/>
<circle cx="423.72" cy="338.47" r="0.66" fill="#ffffff" fill-opacity="1"/>
<circle cx="440.3" cy="336.2" r="0.77" fill="#ffffff" fill-opacity="1"/>
<circle cx="437.41" cy="320.91" r="1" fill="#ffffff" fill-opacity="1"/>
<circle cx="417.06" cy="328.47" r="0.5" fill="#ffffff" fill-opacity="1"/>
<circle cx="409.88" cy="342.49" r="0.63" fill="#ffffff" fill-opacity="1"/>
<circle cx="444.12" cy="333.7" r="1.05" fill="#ffffff" fill-opacity="1"/>
<circle cx="440.09" cy="331.51" r="0.79" fill="#ffffff" fill-opacity="1"/>
<circle cx="421.97" cy="342.14" r="0.61" fill="#ffffff" fill-opacity="1"/>
<circle cx="453.63" cy="327.74" r="1.14" fill="#ffffff" fill-opacity="1"/>
<circle cx="432.61" cy="323.75" r="0.78" fill="#ffffff" fill-opacity="1"/>
<circle cx="446.18" cy="312.97" r="1.14" fill="#ffffff" fill-opacity="1"/>
<circle cx="424.2" cy="321.39" r="0.63" fill="#ffffff" fill-opacity="1"/>
<circle cx="423.41" cy="343.48" r="0.6" fill="#ffffff" fill-opacity="1"/>
<circle cx="430.44" cy="339.01" r="0.86" fill="#ffffff" fill-opacity="1"/>
<circle cx="431.11" cy="332.81" r="0.68" fill="#ffffff" fill-opacity="1"/>
<circle cx="460.24" cy="317.19" r="1.17" fill="#ffffff" fill-opacity="1"/>
<circle cx="425.23" cy="342.6" r="0.68" fill="#ffffff" fill-opacity="1"/>
<circle cx="432.15" cy="320.73" r="0.91" fill="#ffffff" fill-opacity="1"/>
<circle cx="457.85" cy="321.38" r="1.12" fill="#ffffff" fill-opacity="1"/>
<circle cx="428.7" cy="323.9" r="0.98" fill="#ffffff" fill-opacity="1"/>
<circle cx="466.19" cy="312.48" r="1.2" fill="#ffffff" fill-opacity="1"/>
<circle cx="461.59" cy="309.43" r="1.25" fill="#ffffff" fill-opacity="1"/>
<circle cx="466.72" cy="301.4" r="1.1" fill="#ffffff" fill-opacity="1"/>
<circle cx="433.41" cy="326.43" r="0.99" fill="#ffffff" fill-opacity="1"/>
<circle cx="412.85" cy="331.22" r="0.73" fill="#ffffff" fill-opacity="1"/>
<circle cx="412.55" cy="341.43" r="0.5" fill="#ffffff" fill-opacity="1"/>
<circle cx="444.16" cy="323.82" r="1.14" fill="#ffffff" fill-opacity="1"/>
<circle cx="420.12" cy="338.65" r="0.74" fill="#ffffff" fill-opacity="1"/>
<circle cx="453.48" cy="324.66" r="1.08" fill="#ffffff" fill-opacity="1"/>
<circle cx="455.78" cy="316.72" r="1.04" fill="#ffffff" fill-opacity="1"/>
<circle cx="444.61" cy="327.24" r="0.94" fill="#ffffff" fill-opacity="1"/>
<circle cx="451.99" cy="311.2" r="0.98" fill="#ffffff" fill-opacity="1"/>
<circle cx="449.09" cy="314.97" r="0.85" fill="#ffffff" fill-opacity="1"/>
<circle cx="455.18" cy="321.69" r="0.94" fill="#ffffff" fill-opacity="1"/>
<circle cx="410.07" cy="335.88" r="0.5" fill="#ffffff" fill-opacity="1"/>
<circle cx="430.99" cy="330.33" r="0.67" fill="#ffffff" fill-opacity="1"/>
<circle cx="419.27" cy="323.86" r="0.51" fill="#ffffff" fill-opacity="1"/>
<circle cx="410.42" cy="340.08" r="0.5" fill="#ffffff" fill-opacity="1"/>
<circle cx="433.65" cy="334.13" r="0.93" fill="#ffffff" fill-opacity="1"/>
<circle cx="446.43" cy="317.79" r="0.97" fill="#ffffff" fill-opacity="1"/>
<circle cx="436.61" cy="335.63" r="1.08" fill="#ffffff" fill-opacity="1"/>
<circle cx="433.28" cy="339.12" r="0.83" fill="#ffffff" fill-opacity="1"/>
<circle cx="449.59" cy="331.59" r="1.16" fill="#ffffff" fill-opacity="1"/>
<circle cx="455.84" cy="330.97" r="1.22" fill="#ffffff" fill-opacity="1"/>
<circle cx="456.12" cy="312.87" r="1" fill="#ffffff" fill-opacity="1"/>
<circle cx="412.07" cy="343.43" r="0.73" fill="#ffffff" fill-opacity="1"/>
<circle cx="425.24" cy="339.85" r="0.65" fill="#ffffff" fill-opacity="1"/>
<circle cx="468.59" cy="316.7" r="1.1" fill="#ffffff" fill-opacity="1"/>
<circle cx="412.67" cy="328.89" r="0.5" fill="#ffffff" fill-opacity="1"/>
<circle cx="415.24" cy="331.56" r="0.69" fill="#ffffff" fill-opacity="1"/>
<circle cx="452.94" cy="314.27" r="1.09" fill="#ffffff" fill-opacity="1"/>
<circle cx="427.61" cy="326.31" r="0.66" fill="#ffffff" fill-opacity="1"/>
<circle cx="421.8" cy="344.27" r="0.54" fill="#ffffff" fill-opacity="1"/>
<circle cx="407" cy="344.61" r="0.5" fill="#ffffff" fill-opacity="1"/>
<circle cx="436.73" cy="338.61" r="0.79" fill="#ffffff" fill-opacity="1"/>
<circle cx="430.23" cy="319.51" r="0.7" fill="#ffffff" fill-opacity="1"/>
<circle cx="466.18" cy="309.5" r="1.12" fill="#ffffff" fill-opacity="1"/>
<circle cx="449.74" cy="322.2" r="1" fill="#ffffff" fill-opacity="1"/>
<circle cx="447.42" cy="323.53" r="1.01" fill="#ffffff" fill-opacity="1"/>
<circle cx="421" cy="340.48" r="0.67" fill="#ffffff" fill-opacity="1"/>
<circle cx="462.57" cy="313.17" r="1.2" fill="#ffffff" fill-opacity="1"/>
<circle cx="442.15" cy="330.22" r="1.04" fill="#ffffff" fill-opacity="1"/>
<circle cx="468.91" cy="304.32" r="1.31" fill="#ffffff" fill-opacity="1"/>
<circle cx="407.54" cy="336.6" r="0.54" fill="#ffffff" fill-opacity="1"/>
<circle cx="434.22" cy="317.1" r="0.94" fill="#ffffff" fill-opacity="1"/>
<circle cx="415.09" cy="337.54" r="0.68" fill="#ffffff" fill-opacity="1"/>
<circle cx="443.63" cy="313.56" r="0.83" fill="#ffffff" fill-opacity="1"/>
<circle cx="418.11" cy="334.89" r="0.8" fill="#ffffff" fill-opacity="1"/>
<circle cx="408.61" cy="332.51" r="0.5" fill="#ffffff" fill-opacity="1"/>
<circle cx="419.07" cy="344.34" r="0.72" fill="#ffffff" fill-opacity="1"/>
<circle cx="415.64" cy="325.94" r="0.59" fill="#ffffff" fill-opacity="1"/>
<circle cx="406.91" cy="341.65" r="0.68" fill="#ffffff" fill-opacity="1"/>
<circle cx="459.98" cy="328.49" r="1.17" fill="#ffffff" fill-opacity="1"/>
<circle cx="441.92" cy="325.88" r="0.95" fill="#ffffff" fill-opacity="1"/>
<circle cx="455.87" cy="309.83" r="1.06" fill="#ffffff" fill-opacity="1"/>
<circle cx="439.27" cy="323.88" r="1.02" fill="#ffffff" fill-opacity="1"/>
<circle cx="408.64" cy="340.01" r="0.67" fill="#ffffff" fill-opacity="1"/>
<circle cx="426.06" cy="336.89" r="0.89" fill="#ffffff" fill-opacity="1"/>
<circle cx="429.68" cy="326.46" r="0.66" fill="#ffffff" fill-opacity="1"/>
<circle cx="429.22" cy="332.26" r="0.73" fill="#ffffff" fill-opacity="1"/>
<circle cx="411.27" cy="330.2" r="0.5" fill="#ffffff" fill-opacity="1"/>
<circle cx="445.53" cy="320.7" r="0.82" fill="#ffffff" fill-opacity="1"/>
<circle cx="468.99" cy="308.93" r="1.18" fill="#ffffff" fill-opacity="1"/>
<circle cx="420.9" cy="336.01" r="0.87" fill="#ffffff" fill-opacity="1"/>
<circle cx="445.76" cy="330.67" r="1.15" fill="#ffffff" fill-opacity="1"/>
<circle cx="410.18" cy="337.46" r="0.5" fill="#ffffff" fill-opacity="1"/>
<circle cx="429.59" cy="328.66" r="0.93" fill="#ffffff" fill-opacity="1"/>
<circle cx="416.79" cy="336.36" r="0.5" fill="#ffffff" fill-opacity="1"/>
<circle cx="423.37" cy="340.42" r="0.68" fill="#ffffff" fill-opacity="1"/>
<circle cx="433.42" cy="330.33" r="0.78" fill="#ffffff" fill-opacity="1"/>
<circle cx="459.05" cy="312.63" r="1.34" fill="#ffffff" fill-opacity="1"/>
<circle cx="416.28" cy="333.16" r="0.52" fill="#ffffff" fill-opacity="1"/>
<circle cx="418.86" cy="340.77" r="0.64" fill="#ffffff" fill-opacity="1"/>
<circle cx="422.4" cy="328.66" r="0.59" fill="#ffffff" fill-opacity="1"/>
<circle cx="439.49" cy="334.01" r="0.74" fill="#ffffff" fill-opacity="1"/>
<circle cx="434.51" cy="322.01" r="0.85" fill="#ffffff" fill-opacity="1"/>
<circle cx="443.01" cy="321.35" r="0.91" fill="#ffffff" fill-opacity="1"/>
<circle cx="409.81" cy="344.82" r="0.5" fill="#ffffff" fill-opacity="1"/>
<circle cx="452.73" cy="332.51" r="0.94" fill="#ffffff" fill-opacity="1"/>
<circle cx="424.77" cy="331.61" r="0.65" fill="#ffffff" fill-opacity="1"/>
<circle cx="412.6" cy="333.14" r="0.5" fill="#ffffff" fill-opacity="1"/>
<circle cx="426.45" cy="323.52" r="0.59" fill="#ffffff" fill-opacity="1"/>
<circle cx="439.15" cy="315.27" r="1.04" fill="#ffffff" fill-opacity="1"/>
<circle cx="440.47" cy="319.12" r="0.96" fill="#ffffff" fill-opacity="1"/>
<circle cx="415.44" cy="334.98" r="0.69" fill="#ffffff" fill-opacity="1"/>
<circle cx="428.78" cy="334.48" r="0.69" fill="#ffffff" fill-opacity="1"/>
<circle cx="408.27" cy="343.65" r="0.52" fill="#ffffff" fill-opacity="1"/>
<circle cx="413.5" cy="327.25" r="0.78" fill="#ffffff" fill-opacity="1"/>
<circle cx="419.23" cy="333.27" r="0.5" fill="#ffffff" fill-opacity="1"/>
<circle cx="436.51" cy="324.18" r="1.06" fill="#ffffff" fill-opacity="1"/>
<circle cx="446.86" cy="333.99" r="1.1" fill="#ffffff" fill-opacity="1"/>
<circle cx="433.54" cy="336.87" r="0.65" fill="#ffffff" fill-opacity="1"/>
<circle cx="420.34" cy="329.23" r="0.53" fill="#ffffff" fill-opacity="1"/>
<circle cx="427.56" cy="339.9" r="0.86" fill="#ffffff" fill-opacity="1"/>
<circle cx="469.64" cy="300.8" r="1.14" fill="#ffffff" fill-opacity="1"/>
<circle cx="422.24" cy="322.79" r="0.55" fill="#ffffff" fill-opacity="1"/>
<circle cx="408.28" cy="335.01" r="0.5" fill="#ffffff" fill-opacity="1"/>
<circle cx="426.46" cy="321.16" r="0.93" fill="#ffffff" fill-opacity="1"/>
<circle cx="449" cy="311.89" r="1.19" fill="#ffffff" fill-opacity="1"/>
<circle cx="418.49" cy="337.28" r="0.61" fill="#ffffff" fill-opacity="1"/>
<circle cx="410.64" cy="331.84" r="0.58" fill="#ffffff" fill-opacity="1"/>
<circle cx="411.63" cy="336.22" r="0.5" fill="#ffffff" fill-opacity="1"/>
<circle cx="464.93" cy="303.67" r="1.07" fill="#ffffff" fill-opacity="1"/>
<circle cx="469.2" cy="312.16" r="1.19" fill="#ffffff" fill-opacity="1"/>
<circle cx="411.9" cy="334.65" r="0.5" fill="#ffffff" fill-opacity="1"/>
<circle cx="427.33" cy="342.63" r="0.72" fill="#ffffff" fill-opacity="1"/>
<circle cx="422.82" cy="330.99" r="0.59" fill="#ffffff" fill-opacity="1"/>
<circle cx="444.63" cy="315.68" r="0.96" fill="#ffffff" fill-opacity="1"/>
<circle cx="441.65" cy="314.8" r="0.85" fill="#ffffff" fill-opacity="1"/>
<circle cx="425.86" cy="325.41" r="0.69" fill="#ffffff" fill-opacity="1"/>
<circle cx="431.63" cy="341" r="0.74" fill="#ffffff" fill-opacity="1"/>
<circle cx="431.03" cy="325.14" r="0.66" fill="#ffffff" fill-opacity="1"/>
<circle cx="423.01" cy="326.17" r="0.7" fill="#ffffff" fill-opacity="1"/>
<circle cx="465.03" cy="324" r="1.1" fill="#ffffff" fill-opacity="1"/>
<circle cx="431.83" cy="317.85" r="0.91" fill="#ffffff" fill-opacity="1"/>
<circle cx="426.83" cy="332.3" r="0.65" fill="#ffffff" fill-opacity="1"/>
<circle cx="418.85" cy="328.12" r="0.69" fill="#ffffff" fill-opacity="1"/>
<circle cx="435.88" cy="328.51" r="1.05" fill="#ffffff" fill-opacity="1"/>
<circle cx="411.83" cy="339.33" r="0.5" fill="#ffffff" fill-opacity="1"/>
<circle cx="434.7" cy="319.65" r="0.84" fill="#ffffff" fill-opacity="1"/>
<circle cx="460.68" cy="322.84" r="1.07" fill="#ffffff" fill-opacity="1"/>
<circle cx="423.3" cy="336.2" r="0.58" fill="#ffffff" fill-opacity="1"/>
<circle cx="430.56" cy="322.34" r="0.79" fill="#ffffff" fill-opacity="1"/>
<circle cx="456.5" cy="328.04" r="0.98" fill="#ffffff" fill-opacity="1"/>
<circle cx="447.14" cy="326.2" r="0.9" fill="#ffffff" fill-opacity="1"/>
<circle cx="414.23" cy="342.6" r="0.5" fill="#ffffff" fill-opacity="1"/>
<circle cx="413.49" cy="339.36" r="0.5" fill="#ffffff" fill-opacity="1"/>
<circle cx="432.12" cy="328.67" r="0.63" fill="#ffffff" fill-opacity="1"/>
<circle cx="416.79" cy="330.35" r="0.5" fill="#ffffff" fill-opacity="1"/>
<circle cx="434.86" cy="331.8" r="0.67" fill="#ffffff" fill-opacity="1"/>
<circle cx="441.63" cy="334.04" r="0.82" fill="#ffffff" fill-opacity="1"/>
<circle cx="414.34" cy="333.15" r="0.51" fill="#ffffff" fill-opacity="1"/>
<circle cx="420.94" cy="323.95" r="0.57" fill="#ffffff" fill-opacity="1"/>
<circle cx="442.68" cy="336.06" r="0.79" fill="#ffffff" fill-opacity="1"/>
<circle cx="451.91" cy="330.14" r="0.98" fill="#ffffff" fill-opacity="1"/>
<path d="M376.5,251.1 L378.4,252.1 L380.1,255 L384.2,258 L388.6,259.1 L392.3,261.6 L394.5,266.7 L397.1,277.7 L399.6,278.7 L401,277.7 L403.2,272.3 L406.1,268.9 L409.1,271.8 L413.4,275.2 L417.8,274.3 L423.7,269.6 L428,253.6 L432.4,235.3 L434.6,236.1 L438,238.8 L441.2,235.1 L446,221.4 L448.4,222.2 L450.8,225.9 L454,227.8 L457,236.5 L459.6,243.9 L464.5,253.5 L467.9,260.2 L471.4,267.4" fill="none" stroke="#231f20" stroke-width="0.85" stroke-linejoin="round"/>
<path d="M472.7,267.4 L475.2,260.2 L478.1,256 L481,251.5 L485.3,245.5 L488,239.5 L491,230.3 L495.8,238.3 L500.6,235.9 L503.8,238.3 L507,243.5 L510.2,248.7 L516.6,247.9 L522.3,246.3" fill="none" stroke="#231f20" stroke-width="0.85" stroke-linejoin="round"/>
<path d="M376.5,251.1 V363.2 H522.3 V246.3" fill="none" stroke="#6d6e71" stroke-width="1"/>
<text x="380.7" y="360.8" font-size="9.2" text-anchor="start" font-weight="bold" fill="#231f20" stroke="#231f20" stroke-width="0.3" >D.</text>
<path d="M563.8,363.4 C563.92,362.17 564.18,358.57 564.5,356 C564.82,353.43 565.2,350.67 565.7,348 C566.2,345.33 566.85,342.5 567.5,340 C568.15,337.5 568.83,334.92 569.6,333 C570.37,331.08 570.9,329.83 572.1,328.5 C573.3,327.17 574.68,326.25 576.8,325 C578.92,323.75 581.98,322.35 584.8,321 C587.62,319.65 590.53,318.27 593.7,316.9 C596.87,315.53 600.77,313.95 603.8,312.8 C606.83,311.65 609.37,310.97 611.9,310 C614.43,309.03 616.98,308.1 619,307 C621.02,305.9 622.67,304.53 624,303.4 C625.33,302.27 626.15,301.27 627,300.2 C627.85,299.13 628.48,298.32 629.1,297 C629.72,295.68 630.28,294.13 630.7,292.3 C631.12,290.47 631.33,287.88 631.6,286 C631.87,284.12 632.27,282.83 632.3,281 C632.33,279.17 632.03,277.1 631.8,275 C631.57,272.9 631.28,270.48 630.9,268.4 C630.52,266.32 630.03,264.13 629.5,262.5 C628.97,260.87 628.4,260.05 627.7,258.6 C627,257.15 626.1,255.57 625.3,253.8 C624.5,252.03 623.67,249.9 622.9,248 C622.13,246.1 621.07,243.33 620.7,242.4 L647.5,242.4 C646.87,243.48 644.93,246.97 643.7,248.9 C642.47,250.83 641.13,252.38 640.1,254 C639.07,255.62 638.17,257.1 637.5,258.6 C636.83,260.1 636.52,261.07 636.1,263 C635.68,264.93 635.27,267.87 635,270.2 C634.73,272.53 634.53,274.53 634.5,277 C634.47,279.47 634.62,282.5 634.8,285 C634.98,287.5 635.37,289.5 635.6,292 C635.83,294.5 636,297.67 636.2,300 C636.4,302.33 636.65,304.32 636.8,306 C636.95,307.68 637.13,308.23 637.1,310.1 C637.07,311.97 636.93,315.02 636.6,317.2 C636.27,319.38 635.85,321.35 635.1,323.2 C634.35,325.05 633.45,326.62 632.1,328.3 C630.75,329.98 628.85,331.78 627,333.3 C625.15,334.82 622.68,336.05 621,337.4 C619.32,338.75 618.1,340.05 616.9,341.4 C615.7,342.75 615.08,343.82 613.8,345.5 C612.52,347.18 610.7,349.65 609.2,351.5 C607.7,353.35 606.43,354.95 604.8,356.6 C603.17,358.25 600.77,360.25 599.4,361.4 C598.03,362.55 597.07,363.15 596.6,363.5 Z" fill="url(#gE)" stroke="#231f20" stroke-width="0.4"/>
<circle cx="628.13" cy="254.59" r="0.54" fill="#ffffff" fill-opacity="1"/>
<circle cx="638.49" cy="243.53" r="0.5" fill="#ffffff" fill-opacity="1"/>
<circle cx="623.02" cy="245.8" r="0.54" fill="#ffffff" fill-opacity="1"/>
<circle cx="633.89" cy="245.18" r="0.89" fill="#ffffff" fill-opacity="1"/>
<circle cx="640.16" cy="248.28" r="0.42" fill="#ffffff" fill-opacity="1"/>
<circle cx="634.18" cy="255.69" r="0.43" fill="#ffffff" fill-opacity="1"/>
<circle cx="627.35" cy="252.37" r="0.66" fill="#ffffff" fill-opacity="1"/>
<circle cx="626.92" cy="249.17" r="0.69" fill="#ffffff" fill-opacity="1"/>
<circle cx="637.83" cy="246.1" r="0.4" fill="#ffffff" fill-opacity="1"/>
<circle cx="625.99" cy="254.05" r="0.42" fill="#ffffff" fill-opacity="1"/>
<circle cx="642.68" cy="246.17" r="0.57" fill="#ffffff" fill-opacity="1"/>
<circle cx="629.56" cy="252.05" r="0.73" fill="#ffffff" fill-opacity="1"/>
<circle cx="642.6" cy="249.75" r="0.43" fill="#ffffff" fill-opacity="1"/>
<circle cx="630.01" cy="244.42" r="0.72" fill="#ffffff" fill-opacity="1"/>
<circle cx="627.19" cy="244.76" r="0.55" fill="#ffffff" fill-opacity="1"/>
<circle cx="624.83" cy="251.05" r="0.67" fill="#ffffff" fill-opacity="1"/>
<ellipse cx="633.6" cy="285" rx="0.75" ry="7" fill="#fff"/>
<ellipse cx="632.9" cy="298.3" rx="1.9" ry="1.6" fill="#fff"/>
<ellipse cx="631.1" cy="254.5" rx="1.1" ry="1.8" fill="#fff"/>
<path d="M577.1,331.08 a0.9,0.9 0 0 1 1.8,0 Z" fill="#ffffff"/>
<path d="M616.61,330.6 a0.9,0.9 0 0 1 1.8,0 Z" fill="#ffffff"/>
<circle cx="585.34" cy="339.66" r="0.45" fill="#ffffff" fill-opacity="1"/>
<circle cx="607.73" cy="318.71" r="0.45" fill="#ffffff" fill-opacity="1"/>
<path d="M570.34,337.96 a1.9,1.9 0 0 1 3.8,0 Z" fill="#ffffff"/>
<path d="M596.9,329.64 a1.5,1.5 0 0 1 3,0 Z" fill="#ffffff"/>
<circle cx="597.83" cy="325.54" r="0.7" fill="#ffffff" fill-opacity="1"/>
<path d="M615.48,319.83 a1.5,1.5 0 0 1 3,0 Z" fill="#ffffff"/>
<circle cx="583.07" cy="324.5" r="0.7" fill="#ffffff" fill-opacity="1"/>
<circle cx="579.13" cy="333.6" r="0.45" fill="#ffffff" fill-opacity="1"/>
<circle cx="630.91" cy="314.41" r="0.7" fill="#ffffff" fill-opacity="1"/>
<circle cx="585.8" cy="337.74" r="0.45" fill="#ffffff" fill-opacity="1"/>
<circle cx="630.55" cy="319.87" r="0.45" fill="#ffffff" fill-opacity="1"/>
<path d="M612.78,316.91 a1.5,1.5 0 0 1 3,0 Z" fill="#ffffff"/>
<path d="M599.48,341.1 a1.9,1.9 0 0 1 3.8,0 Z" fill="#ffffff"/>
<circle cx="593.35" cy="327.09" r="0.7" fill="#ffffff" fill-opacity="1"/>
<path d="M607.07,329.34 a1.9,1.9 0 0 1 3.8,0 Z" fill="#ffffff"/>
<circle cx="613.68" cy="313.3" r="0.45" fill="#ffffff" fill-opacity="1"/>
<path d="M588.88,323.55 a1.5,1.5 0 0 1 3,0 Z" fill="#ffffff"/>
<path d="M569.58,345.55 a1.2,1.2 0 0 1 2.4,0 Z" fill="#ffffff"/>
<path d="M600,332.47 a0.9,0.9 0 0 1 1.8,0 Z" fill="#ffffff"/>
<circle cx="618.39" cy="315.95" r="0.55" fill="#ffffff" fill-opacity="1"/>
<path d="M617.21,333.39 a1.2,1.2 0 0 1 2.4,0 Z" fill="#ffffff"/>
<path d="M579.16,336.88 a2.2,2.2 0 0 1 4.4,0 Z" fill="#ffffff"/>
<path d="M595.37,344.14 a1.9,1.9 0 0 1 3.8,0 Z" fill="#ffffff"/>
<path d="M593.77,337.18 a1.9,1.9 0 0 1 3.8,0 Z" fill="#ffffff"/>
<circle cx="577.48" cy="348.58" r="0.7" fill="#ffffff" fill-opacity="1"/>
<path d="M612.73,337.24 a1.5,1.5 0 0 1 3,0 Z" fill="#ffffff"/>
<circle cx="587.49" cy="327.83" r="0.55" fill="#ffffff" fill-opacity="1"/>
<circle cx="600.47" cy="324.74" r="0.55" fill="#ffffff" fill-opacity="1"/>
<path d="M625.76,313 a1.5,1.5 0 0 1 3,0 Z" fill="#ffffff"/>
<path d="M607.11,335.74 a1.5,1.5 0 0 1 3,0 Z" fill="#ffffff"/>
<path d="M605.04,321.38 a1.5,1.5 0 0 1 3,0 Z" fill="#ffffff"/>
<path d="M621.15,314.24 a1.9,1.9 0 0 1 3.8,0 Z" fill="#ffffff"/>
<path d="M579.6,347.75 a1.9,1.9 0 0 1 3.8,0 Z" fill="#ffffff"/>
<path d="M577.31,327.17 a1.2,1.2 0 0 1 2.4,0 Z" fill="#ffffff"/>
<path d="M623.75,322.94 a1.9,1.9 0 0 1 3.8,0 Z" fill="#ffffff"/>
<path d="M582.27,329.88 a0.9,0.9 0 0 1 1.8,0 Z" fill="#ffffff"/>
<circle cx="595.56" cy="331.31" r="0.7" fill="#ffffff" fill-opacity="1"/>
<circle cx="588.12" cy="342.49" r="0.7" fill="#ffffff" fill-opacity="1"/>
<circle cx="629.8" cy="303.5" r="0.55" fill="#ffffff" fill-opacity="1"/>
<circle cx="618.87" cy="317.38" r="0.45" fill="#ffffff" fill-opacity="1"/>
<path d="M572.98,329.64 a1.9,1.9 0 0 1 3.8,0 Z" fill="#ffffff"/>
<path d="M609.44,320.3 a1.9,1.9 0 0 1 3.8,0 Z" fill="#ffffff"/>
<path d="M596.83,320.52 a1.2,1.2 0 0 1 2.4,0 Z" fill="#ffffff"/>
<circle cx="620.99" cy="323.21" r="0.7" fill="#ffffff" fill-opacity="1"/>
<circle cx="626.66" cy="326.87" r="0.45" fill="#ffffff" fill-opacity="1"/>
<path d="M575.03,340.96 a1.2,1.2 0 0 1 2.4,0 Z" fill="#ffffff"/>
<path d="M590.63,340.72 a1.9,1.9 0 0 1 3.8,0 Z" fill="#ffffff"/>
<circle cx="572.96" cy="350.59" r="0.7" fill="#ffffff" fill-opacity="1"/>
<circle cx="627.98" cy="320.18" r="0.45" fill="#ffffff" fill-opacity="1"/>
<path d="M605.4,325.83 a1.5,1.5 0 0 1 3,0 Z" fill="#ffffff"/>
<path d="M612.8,325.05 a2.2,2.2 0 0 1 4.4,0 Z" fill="#ffffff"/>
<circle cx="603.34" cy="322.41" r="0.45" fill="#ffffff" fill-opacity="1"/>
<path d="M587.92,331.34 a1.9,1.9 0 0 1 3.8,0 Z" fill="#ffffff"/>
<circle cx="581.07" cy="325.53" r="0.55" fill="#ffffff" fill-opacity="1"/>
<path d="M605.84,341.6 a2.2,2.2 0 0 1 4.4,0 Z" fill="#ffffff"/>
<circle cx="576.1" cy="349.92" r="0.45" fill="#ffffff" fill-opacity="1"/>
<circle cx="585.43" cy="329.89" r="0.7" fill="#ffffff" fill-opacity="1"/>
<circle cx="615.53" cy="312.54" r="0.55" fill="#ffffff" fill-opacity="1"/>
<circle cx="618.09" cy="327.77" r="0.7" fill="#ffffff" fill-opacity="1"/>
<path d="M572.91,333.7 a0.9,0.9 0 0 1 1.8,0 Z" fill="#ffffff"/>
<path d="M599.86,327.56 a0.9,0.9 0 0 1 1.8,0 Z" fill="#ffffff"/>
<path d="M579.49,330.08 a0.9,0.9 0 0 1 1.8,0 Z" fill="#ffffff"/>
<path d="M624.83,316.58 a0.9,0.9 0 0 1 1.8,0 Z" fill="#ffffff"/>
<path d="M608.79,315.43 a1.2,1.2 0 0 1 2.4,0 Z" fill="#ffffff"/>
<path d="M600.7,317.15 a0.9,0.9 0 0 1 1.8,0 Z" fill="#ffffff"/>
<circle cx="620.91" cy="308.75" r="0.7" fill="#ffffff" fill-opacity="1"/>
<circle cx="600.22" cy="321.44" r="0.45" fill="#ffffff" fill-opacity="1"/>
<path d="M621.8,329.84 a0.9,0.9 0 0 1 1.8,0 Z" fill="#ffffff"/>
<circle cx="622.72" cy="310.42" r="0.7" fill="#ffffff" fill-opacity="1"/>
<circle cx="579.81" cy="351.9" r="0.55" fill="#ffffff" fill-opacity="1"/>
<circle cx="570.68" cy="348.29" r="0.7" fill="#ffffff" fill-opacity="1"/>
<circle cx="612.47" cy="333.23" r="0.55" fill="#ffffff" fill-opacity="1"/>
<circle cx="581.09" cy="343.47" r="0.7" fill="#ffffff" fill-opacity="1"/>
<circle cx="586.61" cy="346.27" r="0.45" fill="#ffffff" fill-opacity="1"/>
<circle cx="629.39" cy="305.5" r="0.7" fill="#ffffff" fill-opacity="1"/>
<circle cx="575.64" cy="346.67" r="0.7" fill="#ffffff" fill-opacity="1"/>
<path d="M622.9,327.27 a0.9,0.9 0 0 1 1.8,0 Z" fill="#ffffff"/>
<circle cx="605.68" cy="318.22" r="0.7" fill="#ffffff" fill-opacity="1"/>
<path d="M585.07,332.24 a0.9,0.9 0 0 1 1.8,0 Z" fill="#ffffff"/>
<path d="M617.7,310.55 a1.2,1.2 0 0 1 2.4,0 Z" fill="#ffffff"/>
<circle cx="575.01" cy="344.65" r="0.55" fill="#ffffff" fill-opacity="1"/>
<path d="M607.57,332.47 a0.9,0.9 0 0 1 1.8,0 Z" fill="#ffffff"/>
<circle cx="577.75" cy="336.15" r="0.7" fill="#ffffff" fill-opacity="1"/>
<circle cx="590.07" cy="345.68" r="0.45" fill="#ffffff" fill-opacity="1"/>
<circle cx="598.23" cy="332.18" r="0.45" fill="#ffffff" fill-opacity="1"/>
<circle cx="588.64" cy="333.66" r="0.55" fill="#ffffff" fill-opacity="1"/>
<circle cx="617.46" cy="313.16" r="0.55" fill="#ffffff" fill-opacity="1"/>
<circle cx="623.44" cy="308.25" r="0.7" fill="#ffffff" fill-opacity="1"/>
<path d="M592.08,343.77 a0.9,0.9 0 0 1 1.8,0 Z" fill="#ffffff"/>
<path d="M605.39,337.42 a0.9,0.9 0 0 1 1.8,0 Z" fill="#ffffff"/>
<circle cx="620.33" cy="314.83" r="0.55" fill="#ffffff" fill-opacity="1"/>
<path d="M582.99,343.13 a0.9,0.9 0 0 1 1.8,0 Z" fill="#ffffff"/>
<circle cx="622.59" cy="332.75" r="0.55" fill="#ffffff" fill-opacity="1"/>
<circle cx="620.86" cy="319.94" r="0.45" fill="#ffffff" fill-opacity="1"/>
<circle cx="603.24" cy="332.69" r="0.55" fill="#ffffff" fill-opacity="1"/>
<path d="M591.21,345.9 a0.9,0.9 0 0 1 1.8,0 Z" fill="#ffffff"/>
<path d="M628.9,308.37 a0.9,0.9 0 0 1 1.8,0 Z" fill="#ffffff"/>
<circle cx="587.48" cy="339.05" r="0.55" fill="#ffffff" fill-opacity="1"/>
<circle cx="604.42" cy="331.49" r="0.45" fill="#ffffff" fill-opacity="1"/>
<circle cx="601.29" cy="335.28" r="0.55" fill="#ffffff" fill-opacity="1"/>
<circle cx="602.99" cy="319.39" r="0.45" fill="#ffffff" fill-opacity="1"/>
<path d="M592.77,333.38 a0.9,0.9 0 0 1 1.8,0 Z" fill="#ffffff"/>
<circle cx="613.46" cy="331.58" r="0.7" fill="#ffffff" fill-opacity="1"/>
<circle cx="606.46" cy="315.83" r="0.7" fill="#ffffff" fill-opacity="1"/>
<circle cx="577.1" cy="338.21" r="0.55" fill="#ffffff" fill-opacity="1"/>
<circle cx="598.64" cy="322.46" r="0.7" fill="#ffffff" fill-opacity="1"/>
<circle cx="620.31" cy="328.68" r="0.45" fill="#ffffff" fill-opacity="1"/>
<path d="M590.92,336.07 a1.2,1.2 0 0 1 2.4,0 Z" fill="#ffffff"/>
<path d="M614.86,328.2 a0.9,0.9 0 0 1 1.8,0 Z" fill="#ffffff"/>
<path d="M599.64,319.46 a0.9,0.9 0 0 1 1.8,0 Z" fill="#ffffff"/>
<circle cx="625.84" cy="331.15" r="0.7" fill="#ffffff" fill-opacity="1"/>
<circle cx="588.21" cy="345.64" r="0.7" fill="#ffffff" fill-opacity="1"/>
<path d="M629.6,312.17 a1.2,1.2 0 0 1 2.4,0 Z" fill="#ffffff"/>
<circle cx="603.31" cy="330.36" r="0.45" fill="#ffffff" fill-opacity="1"/>
<circle cx="569.36" cy="350.24" r="0.45" fill="#ffffff" fill-opacity="1"/>
<circle cx="620.71" cy="334.04" r="0.55" fill="#ffffff" fill-opacity="1"/>
<circle cx="598.36" cy="339.21" r="0.45" fill="#ffffff" fill-opacity="1"/>
<circle cx="627.5" cy="317.6" r="0.45" fill="#ffffff" fill-opacity="1"/>
<circle cx="604.8" cy="340.73" r="0.45" fill="#ffffff" fill-opacity="1"/>
<circle cx="585.08" cy="341.09" r="0.45" fill="#ffffff" fill-opacity="1"/>
<circle cx="585.69" cy="335.16" r="0.45" fill="#ffffff" fill-opacity="1"/>
<circle cx="603.71" cy="317.6" r="0.55" fill="#ffffff" fill-opacity="1"/>
<circle cx="583.6" cy="333.01" r="0.45" fill="#ffffff" fill-opacity="1"/>
<circle cx="627.3" cy="328.26" r="0.55" fill="#ffffff" fill-opacity="1"/>
<path d="M627.26,309.97 a0.9,0.9 0 0 1 1.8,0 Z" fill="#ffffff"/>
<circle cx="577.34" cy="333.67" r="0.55" fill="#ffffff" fill-opacity="1"/>
<path d="M585.42,323.62 a0.9,0.9 0 0 1 1.8,0 Z" fill="#ffffff"/>
<circle cx="587.62" cy="348.25" r="0.45" fill="#ffffff" fill-opacity="1"/>
<circle cx="580.71" cy="327.05" r="0.45" fill="#ffffff" fill-opacity="1"/>
<circle cx="585.2" cy="348.15" r="0.55" fill="#ffffff" fill-opacity="1"/>
<circle cx="575.01" cy="351.5" r="0.7" fill="#ffffff" fill-opacity="1"/>
<circle cx="584.19" cy="326.5" r="0.45" fill="#ffffff" fill-opacity="1"/>
<circle cx="590.24" cy="337.25" r="0.45" fill="#ffffff" fill-opacity="1"/>
<circle cx="578.76" cy="341.47" r="0.7" fill="#ffffff" fill-opacity="1"/>
<circle cx="624.13" cy="306.65" r="0.55" fill="#ffffff" fill-opacity="1"/>
<circle cx="618.22" cy="323.12" r="0.45" fill="#ffffff" fill-opacity="1"/>
<circle cx="602.84" cy="335.95" r="0.55" fill="#ffffff" fill-opacity="1"/>
<path d="M574.76,335.41 a0.9,0.9 0 0 1 1.8,0 Z" fill="#ffffff"/>
<circle cx="618.12" cy="324.58" r="0.45" fill="#ffffff" fill-opacity="1"/>
<circle cx="605.36" cy="329.05" r="0.7" fill="#ffffff" fill-opacity="1"/>
<circle cx="605.92" cy="333.78" r="0.7" fill="#ffffff" fill-opacity="1"/>
<path d="M592.31,322.46 a2.2,2.2 0 0 1 4.4,0 Z" fill="#ffffff"/>
<circle cx="608.69" cy="322.72" r="0.7" fill="#ffffff" fill-opacity="1"/>
<circle cx="623.03" cy="325.05" r="0.45" fill="#ffffff" fill-opacity="1"/>
<circle cx="571.12" cy="340.18" r="0.55" fill="#ffffff" fill-opacity="1"/>
<path d="M618.3,335.79 a0.9,0.9 0 0 1 1.8,0 Z" fill="#ffffff"/>
<circle cx="627.38" cy="305.73" r="0.7" fill="#ffffff" fill-opacity="1"/>
<circle cx="625.57" cy="328.14" r="0.55" fill="#ffffff" fill-opacity="1"/>
<circle cx="587.78" cy="326.16" r="0.45" fill="#ffffff" fill-opacity="1"/>
<circle cx="590.61" cy="334.04" r="0.45" fill="#ffffff" fill-opacity="1"/>
<circle cx="575.07" cy="337.53" r="0.45" fill="#ffffff" fill-opacity="1"/>
<circle cx="577.29" cy="343.36" r="0.55" fill="#ffffff" fill-opacity="1"/>
<circle cx="590.8" cy="347.14" r="0.45" fill="#ffffff" fill-opacity="1"/>
<path d="M627.68,325.96 a1.5,1.5 0 0 1 3,0 Z" fill="#ffffff"/>
<circle cx="630.5" cy="316.3" r="0.7" fill="#ffffff" fill-opacity="1"/>
<path d="M581.09,350.93 a0.9,0.9 0 0 1 1.8,0 Z" fill="#ffffff"/>
<circle cx="574.47" cy="348.75" r="0.7" fill="#ffffff" fill-opacity="1"/>
<circle cx="570.54" cy="342.49" r="0.7" fill="#ffffff" fill-opacity="1"/>
<path d="M586.79,336.75 a1.2,1.2 0 0 1 2.4,0 Z" fill="#ffffff"/>
<circle cx="617.11" cy="314.68" r="0.55" fill="#ffffff" fill-opacity="1"/>
<circle cx="614.43" cy="320.41" r="0.55" fill="#ffffff" fill-opacity="1"/>
<path d="M609.42,325.7 a0.9,0.9 0 0 1 1.8,0 Z" fill="#ffffff"/>
<circle cx="625.97" cy="307.44" r="0.7" fill="#ffffff" fill-opacity="1"/>
<path d="M610.25,339.08 a0.9,0.9 0 0 1 1.8,0 Z" fill="#ffffff"/>
<path d="M621.33,318.51 a0.9,0.9 0 0 1 1.8,0 Z" fill="#ffffff"/>
<circle cx="585.43" cy="333.75" r="0.45" fill="#ffffff" fill-opacity="1"/>
<circle cx="611.26" cy="335.44" r="0.45" fill="#ffffff" fill-opacity="1"/>
<circle cx="602.54" cy="324.77" r="0.7" fill="#ffffff" fill-opacity="1"/>
<circle cx="582.66" cy="331.7" r="0.45" fill="#ffffff" fill-opacity="1"/>
<circle cx="593.51" cy="330.1" r="0.7" fill="#ffffff" fill-opacity="1"/>
<circle cx="610.96" cy="331.05" r="0.7" fill="#ffffff" fill-opacity="1"/>
<circle cx="599.94" cy="334.14" r="0.55" fill="#ffffff" fill-opacity="1"/>
<circle cx="568.8" cy="343.35" r="0.45" fill="#ffffff" fill-opacity="1"/>
<circle cx="569.42" cy="338.1" r="0.55" fill="#ffffff" fill-opacity="1"/>
<circle cx="613.7" cy="327.39" r="0.45" fill="#ffffff" fill-opacity="1"/>
<path d="M589.01,326.2 a0.9,0.9 0 0 1 1.8,0 Z" fill="#ffffff"/>
<circle cx="578.28" cy="351.05" r="0.7" fill="#ffffff" fill-opacity="1"/>
<circle cx="603.41" cy="328.09" r="0.55" fill="#ffffff" fill-opacity="1"/>
<circle cx="571.07" cy="333.04" r="0.55" fill="#ffffff" fill-opacity="1"/>
<path d="M614.85,332.65 a0.9,0.9 0 0 1 1.8,0 Z" fill="#ffffff"/>
<circle cx="585.81" cy="342.56" r="0.55" fill="#ffffff" fill-opacity="1"/>
<circle cx="604.9" cy="326.77" r="0.45" fill="#ffffff" fill-opacity="1"/>
<circle cx="572.84" cy="348.25" r="0.45" fill="#ffffff" fill-opacity="1"/>
<path d="M538.3,251.1 L540.2,252.1 L541.9,255 L546,258 L550.4,259.1 L554.1,261.6 L556.3,266.7 L558.9,277.7 L561.4,278.7 L562.8,277.7 L565,272.3 L567.9,268.9 L570.9,271.8 L575.2,275.2 L579.6,274.3 L585.5,269.6 L589.8,253.6 L594.2,235.3 L596.4,236.1 L599.8,238.8 L603,235.1 L607.8,221.4 L610.2,222.2 L612.6,225.9 L615.8,227.8 L618.8,236.5 L621.4,243.9 L626.3,253.5 L629.7,260.2 L633.2,267.4" fill="none" stroke="#231f20" stroke-width="0.85" stroke-linejoin="round"/>
<path d="M634.5,267.4 L637,260.2 L639.9,256 L642.8,251.5 L647.1,245.5 L649.8,239.5 L652.8,230.3 L657.6,238.3 L662.4,235.9 L665.6,238.3 L668.8,243.5 L672,248.7 L678.4,247.9 L684.1,246.3" fill="none" stroke="#231f20" stroke-width="0.85" stroke-linejoin="round"/>
<path d="M538.3,251.1 V363.2 H684.1 V246.3" fill="none" stroke="#6d6e71" stroke-width="1"/>
<text x="542.5" y="360.8" font-size="9.2" text-anchor="start" font-weight="bold" fill="#231f20" stroke="#231f20" stroke-width="0.3" >E.</text>
<path d="M35.3,247.4 H44.8 M40,247.4 V353.3 M36,353.3 H44.7" fill="none" stroke="#808285" stroke-width="1.1"/>
<text x="-0.6" y="308.8" font-size="9.4" text-anchor="start" font-weight="normal" fill="#231f20" stroke="#231f20" stroke-width="0.14" >~100 m</text>
<text x="97.6" y="288.8" font-size="8.8" text-anchor="middle" font-weight="normal" fill="#231f20" stroke="#231f20" stroke-width="0.14" >Lava outgassing</text>
<text x="98" y="298.7" font-size="8.8" text-anchor="middle" font-weight="normal" fill="#231f20" stroke="#231f20" stroke-width="0.14" >at surface</text>
<text x="166.9" y="293.2" font-size="8.8" text-anchor="start" font-weight="normal" fill="#231f20" stroke="#231f20" stroke-width="0.14" >Conduit</text>
<text x="151.1" y="347.6" font-size="8.8" text-anchor="start" font-weight="normal" fill="#231f20" stroke="#231f20" stroke-width="0.14" >Shallow</text>
<text x="157.2" y="357.7" font-size="8.8" text-anchor="start" font-weight="normal" fill="#231f20" stroke="#231f20" stroke-width="0.14" >cavity</text>
<line x1="132.4" y1="280.6" x2="146.1" y2="265.3" stroke="#231f20" stroke-width="1" stroke-dasharray="1.2 1.2"/>
<line x1="152.1" y1="283.2" x2="164.9" y2="288.3" stroke="#231f20" stroke-width="1" stroke-dasharray="1.2 1.2"/>
<line x1="136.8" y1="337.9" x2="150.4" y2="343.4" stroke="#231f20" stroke-width="1" stroke-dasharray="1.2 1.2"/>
<text x="220" y="302.7" font-size="8.75" text-anchor="start" font-weight="normal" fill="#231f20" stroke="#231f20" stroke-width="0.14" >Foam accumulation</text>
<text x="347.4" y="341.2" font-size="8.75" text-anchor="end" font-weight="normal" fill="#231f20" stroke="#231f20" stroke-width="0.14" >Melt-gas</text>
<text x="351.8" y="350.5" font-size="8.75" text-anchor="end" font-weight="normal" fill="#231f20" stroke="#231f20" stroke-width="0.14" >separation</text>
<line x1="277.4" y1="306.1" x2="281.8" y2="312" stroke="#231f20" stroke-width="1" stroke-dasharray="1.2 1.2"/>
<line x1="299.3" y1="336.8" x2="306.6" y2="339.7" stroke="#231f20" stroke-width="1" stroke-dasharray="1.2 1.2"/>
<text x="409.8" y="289.6" font-size="9.7" text-anchor="start" font-weight="normal" fill="#231f20" stroke="#231f20" stroke-width="0.14" >Slug ascent</text>
<text x="387.5" y="304.8" font-size="9.6" text-anchor="start" font-weight="normal" fill="#231f20" stroke="#231f20" stroke-width="0.14" >Foam collapse</text>
<line x1="461.5" y1="286.5" x2="469" y2="275.5" stroke="#231f20" stroke-width="1" stroke-dasharray="1.2 1.2"/>
<line x1="443.5" y1="307" x2="447.5" y2="311" stroke="#231f20" stroke-width="1" stroke-dasharray="1.2 1.2"/>
<text x="581" y="288.8" font-size="9.7" text-anchor="middle" font-weight="normal" fill="#231f20" stroke="#231f20" stroke-width="0.14" >Magma</text>
<text x="582" y="300.1" font-size="9.7" text-anchor="middle" font-weight="normal" fill="#231f20" stroke="#231f20" stroke-width="0.14" >decompression</text>
<text x="648.5" y="342.4" font-size="9.6" text-anchor="middle" font-weight="normal" fill="#231f20" stroke="#231f20" stroke-width="0.14" >Influx of</text>
<text x="649.5" y="354.7" font-size="9.7" text-anchor="middle" font-weight="normal" fill="#231f20" stroke="#231f20" stroke-width="0.14" >gas + melt</text>
<line x1="588.3" y1="304.7" x2="609.5" y2="323.9" stroke="#231f20" stroke-width="1" stroke-dasharray="1.2 1.2"/>
<line x1="625.7" y1="345.1" x2="593.4" y2="353.2" stroke="#231f20" stroke-width="1" stroke-dasharray="1.2 1.2"/>
<path d="M459.9,102.6 Q463.3,103.8 464.7,107.0" fill="none" stroke="#b01e26" stroke-width="1.6" stroke-linecap="butt"/>
<path d="M480.4,102.6 Q477.3,103.8 476.0,107.0" fill="none" stroke="#b01e26" stroke-width="1.6" stroke-linecap="butt"/>
<rect x="464.48" y="108.58" width="1.25" height="1.25" fill="#b01e26"/>
<rect x="465.07" y="110.97" width="1.25" height="1.25" fill="#b01e26"/>
<rect x="474.68" y="108.58" width="1.25" height="1.25" fill="#b01e26"/>
<rect x="473.88" y="110.97" width="1.25" height="1.25" fill="#b01e26"/>
<path d="M462.6,126.2 L464.4,134.0" fill="none" stroke="#b01e26" stroke-width="1.4" stroke-linecap="butt"/>
<rect x="458.57" y="121.58" width="1.25" height="1.25" fill="#b01e26"/>
<rect x="460.48" y="123.67" width="1.25" height="1.25" fill="#b01e26"/>
<path d="M467.8,125.6 L468.5,134.0" fill="none" stroke="#b01e26" stroke-width="1.4" stroke-linecap="butt"/>
<rect x="466.68" y="120.28" width="1.25" height="1.25" fill="#b01e26"/>
<rect x="466.98" y="122.67" width="1.25" height="1.25" fill="#b01e26"/>
<path d="M472.5,125.6 L471.8,134.0" fill="none" stroke="#b01e26" stroke-width="1.4" stroke-linecap="butt"/>
<rect x="472.07" y="120.28" width="1.25" height="1.25" fill="#b01e26"/>
<rect x="471.77" y="122.67" width="1.25" height="1.25" fill="#b01e26"/>
<path d="M477.7,126.2 L475.9,134.0" fill="none" stroke="#b01e26" stroke-width="1.4" stroke-linecap="butt"/>
<rect x="480.48" y="121.58" width="1.25" height="1.25" fill="#b01e26"/>
<rect x="478.27" y="123.67" width="1.25" height="1.25" fill="#b01e26"/>
<path d="M453.9,133.8 L452.9,141.6" fill="none" stroke="#b01e26" stroke-width="1.4" stroke-linecap="butt"/>
<rect x="454.07" y="128.18" width="1.25" height="1.25" fill="#b01e26"/>
<rect x="453.57" y="130.78" width="1.25" height="1.25" fill="#b01e26"/>
<rect x="452.18" y="143.38" width="1.25" height="1.25" fill="#b01e26"/>
<rect x="451.88" y="145.97" width="1.25" height="1.25" fill="#b01e26"/>
<path d="M486.1,133.8 L487.1,141.6" fill="none" stroke="#b01e26" stroke-width="1.4" stroke-linecap="butt"/>
<rect x="484.68" y="128.18" width="1.25" height="1.25" fill="#b01e26"/>
<rect x="485.18" y="130.78" width="1.25" height="1.25" fill="#b01e26"/>
<rect x="486.57" y="143.38" width="1.25" height="1.25" fill="#b01e26"/>
<rect x="486.88" y="145.97" width="1.25" height="1.25" fill="#b01e26"/>
<path d="M456.6,140.5 Q456.8,133.5 459.2,133.0 Q460.3,133.0 460.8,134.0" fill="none" stroke="#b01e26" stroke-width="1.4" stroke-linecap="butt"/>
<rect x="455.68" y="142.68" width="1.25" height="1.25" fill="#b01e26"/>
<path d="M483.4,140.5 Q483.2,133.5 480.8,133.0 Q479.7,133.0 479.2,134.0" fill="none" stroke="#b01e26" stroke-width="1.4" stroke-linecap="butt"/>
<rect x="483.07" y="142.68" width="1.25" height="1.25" fill="#b01e26"/>
<rect x="461.4" y="135.3" width="4" height="1.3" fill="url(#vs)"/>
<rect x="461.4" y="137.8" width="4" height="1.3" fill="url(#vs)"/>
<rect x="467.8" y="135.3" width="4.6" height="1.3" fill="url(#vs)"/>
<rect x="467.8" y="137.8" width="4.6" height="1.3" fill="url(#vs)"/>
<rect x="474.8" y="135.3" width="4" height="1.3" fill="url(#vs)"/>
<rect x="474.8" y="137.8" width="4" height="1.3" fill="url(#vs)"/>
<rect x="463.1" y="147.3" width="3.8" height="1.5" fill="url(#vs)"/>
<rect x="463.1" y="150.1" width="3.8" height="1.3" fill="url(#vs)"/>
<rect x="463.1" y="153" width="3.8" height="7.7" fill="url(#vs)"/>
<rect x="463.1" y="162" width="3.8" height="1.5" fill="url(#vs)"/>
<rect x="463.1" y="164.9" width="3.8" height="1.5" fill="url(#vs)"/>
<rect x="468.2" y="147.3" width="3.9" height="1.5" fill="url(#vs)"/>
<rect x="468.2" y="150.1" width="3.9" height="1.3" fill="url(#vs)"/>
<rect x="468.2" y="153" width="3.9" height="7.7" fill="url(#vs)"/>
<rect x="468.2" y="162" width="3.9" height="1.5" fill="url(#vs)"/>
<rect x="468.2" y="164.9" width="3.9" height="1.5" fill="url(#vs)"/>
<rect x="473.7" y="147.3" width="3.8" height="1.5" fill="url(#vs)"/>
<rect x="473.7" y="150.1" width="3.8" height="1.3" fill="url(#vs)"/>
<rect x="473.7" y="153" width="3.8" height="7.7" fill="url(#vs)"/>
<rect x="473.7" y="162" width="3.8" height="1.5" fill="url(#vs)"/>
<rect x="473.7" y="164.9" width="3.8" height="1.5" fill="url(#vs)"/>
<path d="M451.9,155 V174" fill="none" stroke="#b01e26" stroke-width="1.35" stroke-dasharray="2.6 0.8"/>
<path d="M455.4,152 V170" fill="none" stroke="#b01e26" stroke-width="1.35" stroke-dasharray="2.6 0.8"/>
<path d="M484.9,152 V170" fill="none" stroke="#b01e26" stroke-width="1.35" stroke-dasharray="2.6 0.8"/>
<path d="M488.1,155 V174" fill="none" stroke="#b01e26" stroke-width="1.35" stroke-dasharray="2.6 0.8"/>
<path d="M457.4,167.5 L457.2,175.2" fill="none" stroke="#b01e26" stroke-width="1.4" stroke-linecap="butt"/>
<rect x="457.77" y="164.28" width="1.25" height="1.25" fill="#b01e26"/>
<rect x="459.38" y="165.07" width="1.25" height="1.25" fill="#b01e26"/>
<path d="M482.6,167.5 L482.8,175.2" fill="none" stroke="#b01e26" stroke-width="1.4" stroke-linecap="butt"/>
<rect x="480.98" y="164.28" width="1.25" height="1.25" fill="#b01e26"/>
<rect x="479.38" y="165.07" width="1.25" height="1.25" fill="#b01e26"/>
<rect x="461.7" y="174.3" width="4.3" height="1.6" fill="url(#vs)"/>
<rect x="461.7" y="177.4" width="4.3" height="1.5" fill="url(#vs)"/>
<rect x="461.7" y="180.4" width="4.3" height="7.1" fill="url(#vs)"/>
<rect x="461.7" y="189.5" width="4.3" height="1.1" fill="url(#vs)"/>
<rect x="461.7" y="192" width="4.3" height="1.5" fill="url(#vs)"/>
<rect x="467.2" y="174.3" width="5.3" height="1.6" fill="url(#vs)"/>
<rect x="467.2" y="177.4" width="5.3" height="1.5" fill="url(#vs)"/>
<rect x="467.2" y="180.4" width="5.3" height="7.1" fill="url(#vs)"/>
<rect x="467.2" y="189.5" width="5.3" height="1.1" fill="url(#vs)"/>
<rect x="467.2" y="192" width="5.3" height="1.5" fill="url(#vs)"/>
<rect x="473.6" y="174.3" width="5.2" height="1.6" fill="url(#vs)"/>
<rect x="473.6" y="177.4" width="5.2" height="1.5" fill="url(#vs)"/>
<rect x="473.6" y="180.4" width="5.2" height="7.1" fill="url(#vs)"/>
<rect x="473.6" y="189.5" width="5.2" height="1.1" fill="url(#vs)"/>
<rect x="473.6" y="192" width="5.2" height="1.5" fill="url(#vs)"/>
<path d="M455.1,179.4 V188" fill="none" stroke="#b01e26" stroke-width="1.1" stroke-dasharray="2 0.9"/>
<path d="M484.9,179.4 V188" fill="none" stroke="#b01e26" stroke-width="1.1" stroke-dasharray="2 0.9"/>
<path d="M457.4,189.5 V201.8" fill="none" stroke="#b01e26" stroke-width="1.1" stroke-dasharray="3 0.8"/>
<path d="M482.6,189.5 V201.8" fill="none" stroke="#b01e26" stroke-width="1.1" stroke-dasharray="3 0.8"/>
<rect x="461.5" y="201.4" width="7.1" height="1.3" fill="url(#vs)"/>
<rect x="461.5" y="204" width="7.1" height="1.7" fill="url(#vs)"/>
<rect x="461.5" y="207" width="7.1" height="7.6" fill="url(#vs)"/>
<rect x="461.5" y="216.3" width="7.1" height="1.3" fill="url(#vs)"/>
<rect x="461.5" y="219.3" width="7.1" height="1.3" fill="url(#vs)"/>
<rect x="471.3" y="201.4" width="7.7" height="1.3" fill="url(#vs)"/>
<rect x="471.3" y="204" width="7.7" height="1.7" fill="url(#vs)"/>
<rect x="471.3" y="207" width="7.7" height="7.6" fill="url(#vs)"/>
<rect x="471.3" y="216.3" width="7.7" height="1.3" fill="url(#vs)"/>
<rect x="471.3" y="219.3" width="7.7" height="1.3" fill="url(#vs)"/>
<rect x="461.5" y="228.7" width="7.1" height="1" fill="url(#vs)"/>
<rect x="461.5" y="231.3" width="7.1" height="1.3" fill="url(#vs)"/>
<rect x="461.5" y="233.9" width="7.1" height="8.4" fill="url(#vs)"/>
<rect x="471.3" y="228.7" width="7.7" height="1" fill="url(#vs)"/>
<rect x="471.3" y="231.3" width="7.7" height="1.3" fill="url(#vs)"/>
<rect x="471.3" y="233.9" width="7.7" height="8.4" fill="url(#vs)"/>
<rect x="623.6" y="168.6" width="1.2" height="1.2" fill="#b01e26"/>
<rect x="643.2" y="168.6" width="1.2" height="1.2" fill="#b01e26"/>
<path d="M631.3,180.4 L632.6,187.5" fill="none" stroke="#b01e26" stroke-width="1.4" stroke-linecap="butt"/>
<rect x="629.67" y="174.68" width="1.25" height="1.25" fill="#b01e26"/>
<rect x="630.27" y="177.18" width="1.25" height="1.25" fill="#b01e26"/>
<path d="M636.6,180.4 L635.4,187.5" fill="none" stroke="#b01e26" stroke-width="1.4" stroke-linecap="butt"/>
<rect x="637.08" y="174.68" width="1.25" height="1.25" fill="#b01e26"/>
<rect x="636.27" y="177.18" width="1.25" height="1.25" fill="#b01e26"/>
<path d="M625.8,181.1 L629.0,187.5" fill="none" stroke="#b01e26" stroke-width="1.4" stroke-linecap="butt"/>
<rect x="620.67" y="178.18" width="1.25" height="1.25" fill="#b01e26"/>
<rect x="623.27" y="178.88" width="1.25" height="1.25" fill="#b01e26"/>
<path d="M642.2,181.1 L639.0,187.5" fill="none" stroke="#b01e26" stroke-width="1.4" stroke-linecap="butt"/>
<rect x="646.08" y="178.18" width="1.25" height="1.25" fill="#b01e26"/>
<rect x="643.48" y="178.88" width="1.25" height="1.25" fill="#b01e26"/>
<path d="M620.4,187.0 Q621.0,184.2 623.2,184.1 Q625.2,184.2 626.2,187.5" fill="none" stroke="#b01e26" stroke-width="1.4" stroke-linecap="butt"/>
<path d="M647.6,187.0 Q647.0,184.2 644.8,184.1 Q642.8,184.2 641.8,187.5" fill="none" stroke="#b01e26" stroke-width="1.4" stroke-linecap="butt"/>
<rect x="616.48" y="186.57" width="1.25" height="1.25" fill="#b01e26"/>
<rect x="616.17" y="189.07" width="1.25" height="1.25" fill="#b01e26"/>
<rect x="619.08" y="188.47" width="1.25" height="1.25" fill="#b01e26"/>
<rect x="619.08" y="190.68" width="1.25" height="1.25" fill="#b01e26"/>
<rect x="650.27" y="186.57" width="1.25" height="1.25" fill="#b01e26"/>
<rect x="650.58" y="189.07" width="1.25" height="1.25" fill="#b01e26"/>
<rect x="647.67" y="188.47" width="1.25" height="1.25" fill="#b01e26"/>
<rect x="647.67" y="190.68" width="1.25" height="1.25" fill="#b01e26"/>
<path d="M616.5,192 L616.2,200.5" fill="none" stroke="#b01e26" stroke-width="1.4" stroke-linecap="butt"/>
<path d="M651.5,192 L651.8,200.5" fill="none" stroke="#b01e26" stroke-width="1.4" stroke-linecap="butt"/>
<rect x="626.3" y="189.1" width="3.1" height="1.2" fill="url(#vs)"/>
<rect x="626.3" y="192" width="3.1" height="1.2" fill="url(#vs)"/>
<rect x="631.9" y="189.1" width="4" height="1.2" fill="url(#vs)"/>
<rect x="631.9" y="192" width="4" height="1.2" fill="url(#vs)"/>
<rect x="637.9" y="189.1" width="3.1" height="1.2" fill="url(#vs)"/>
<rect x="637.9" y="192" width="3.1" height="1.2" fill="url(#vs)"/>
<path d="M616.5,201.5 V205.5" fill="none" stroke="#b01e26" stroke-width="1.35" stroke-dasharray="2.2 0.8"/>
<path d="M651.5,201.5 V205.5" fill="none" stroke="#b01e26" stroke-width="1.35" stroke-dasharray="2.2 0.8"/>
<path d="M618.8,200.4 V213.4" fill="none" stroke="#b01e26" stroke-width="1.35" stroke-dasharray="2.2 0.8"/>
<path d="M649.2,200.4 V213.4" fill="none" stroke="#b01e26" stroke-width="1.35" stroke-dasharray="2.2 0.8"/>
<path d="M621.2,207.8 V220.9" fill="none" stroke="#b01e26" stroke-width="1.35" stroke-dasharray="2.2 0.8"/>
<path d="M646.8,207.8 V220.9" fill="none" stroke="#b01e26" stroke-width="1.35" stroke-dasharray="2.2 0.8"/>
<rect x="624.9" y="201.8" width="5.1" height="1" fill="url(#vs)"/>
<rect x="624.9" y="204.6" width="5.1" height="1" fill="url(#vs)"/>
<rect x="624.9" y="206.9" width="5.1" height="7.4" fill="url(#vs)"/>
<rect x="624.9" y="216.2" width="5.1" height="1" fill="url(#vs)"/>
<rect x="624.9" y="219" width="5.1" height="1" fill="url(#vs)"/>
<rect x="631.3" y="201.8" width="5.1" height="1" fill="url(#vs)"/>
<rect x="631.3" y="204.6" width="5.1" height="1" fill="url(#vs)"/>
<rect x="631.3" y="206.9" width="5.1" height="7.4" fill="url(#vs)"/>
<rect x="631.3" y="216.2" width="5.1" height="1" fill="url(#vs)"/>
<rect x="631.3" y="219" width="5.1" height="1" fill="url(#vs)"/>
<rect x="637.7" y="201.8" width="5.3" height="1" fill="url(#vs)"/>
<rect x="637.7" y="204.6" width="5.3" height="1" fill="url(#vs)"/>
<rect x="637.7" y="206.9" width="5.3" height="7.4" fill="url(#vs)"/>
<rect x="637.7" y="216.2" width="5.3" height="1" fill="url(#vs)"/>
<rect x="637.7" y="219" width="5.3" height="1" fill="url(#vs)"/>
<rect x="625.2" y="228.5" width="4.8" height="1" fill="url(#vs)"/>
<rect x="625.2" y="231.2" width="4.8" height="1" fill="url(#vs)"/>
<rect x="625.2" y="233.6" width="4.8" height="8.7" fill="url(#vs)"/>
<rect x="635.7" y="228.5" width="6.3" height="1" fill="url(#vs)"/>
<rect x="635.7" y="231.2" width="6.3" height="1" fill="url(#vs)"/>
<rect x="635.7" y="233.6" width="6.3" height="8.7" fill="url(#vs)"/>
</svg>
</body></html>
